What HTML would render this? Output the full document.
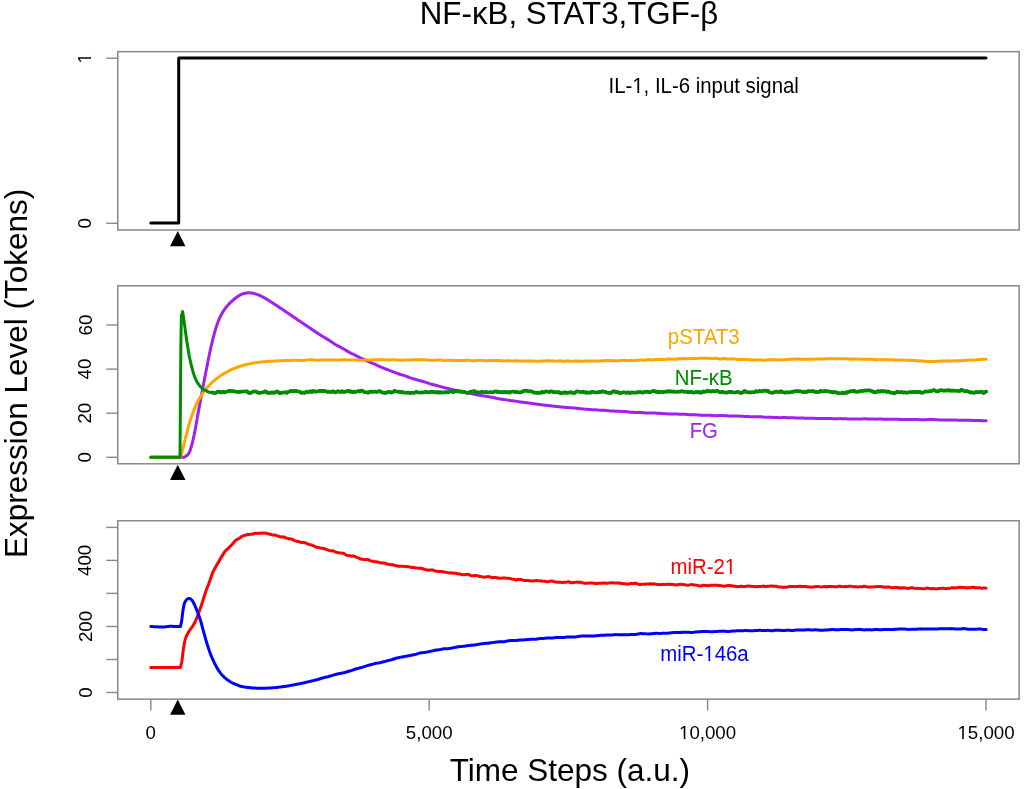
<!DOCTYPE html>
<html><head><meta charset="utf-8"><style>
html,body{margin:0;padding:0;background:#fff;}
svg{display:block;will-change:transform;}
text{font-family:"Liberation Sans",sans-serif;}
</style></head><body>
<svg width="1024" height="789" viewBox="0 0 1024 789">
<rect width="1024" height="789" fill="#fff"/>
<rect x="117.75" y="51.67" width="901.40" height="178.33" fill="none" stroke="#888888" stroke-width="1.5"/>
<rect x="117.75" y="285.75" width="901.40" height="178.02" fill="none" stroke="#888888" stroke-width="1.5"/>
<rect x="117.75" y="520.75" width="901.40" height="178.40" fill="none" stroke="#888888" stroke-width="1.5"/>
<line x1="106.3" y1="58.2" x2="117.75" y2="58.2" stroke="#888888" stroke-width="1.4"/>
<text x="91.5" y="58.2" transform="rotate(-90 91.5 58.2)" text-anchor="middle" font-size="18.7">1</text><rect x="87.07" y="55.80" width="3.93" height="3.70" fill="#fff" transform="rotate(-90 91.5 58.2)"/><rect x="92.65" y="55.80" width="3.79" height="3.70" fill="#fff" transform="rotate(-90 91.5 58.2)"/>
<line x1="106.3" y1="223.3" x2="117.75" y2="223.3" stroke="#888888" stroke-width="1.4"/>
<text x="91.5" y="223.3" transform="rotate(-90 91.5 223.3)" text-anchor="middle" font-size="18.7">0</text>
<line x1="106.3" y1="457.3" x2="117.75" y2="457.3" stroke="#888888" stroke-width="1.4"/>
<text x="91.5" y="457.3" transform="rotate(-90 91.5 457.3)" text-anchor="middle" font-size="18.7">0</text>
<line x1="106.3" y1="413.2" x2="117.75" y2="413.2" stroke="#888888" stroke-width="1.4"/>
<text x="91.5" y="413.2" transform="rotate(-90 91.5 413.2)" text-anchor="middle" font-size="18.7">20</text>
<line x1="106.3" y1="369.1" x2="117.75" y2="369.1" stroke="#888888" stroke-width="1.4"/>
<text x="91.5" y="369.1" transform="rotate(-90 91.5 369.1)" text-anchor="middle" font-size="18.7">40</text>
<line x1="106.3" y1="325.0" x2="117.75" y2="325.0" stroke="#888888" stroke-width="1.4"/>
<text x="91.5" y="325.0" transform="rotate(-90 91.5 325.0)" text-anchor="middle" font-size="18.7">60</text>
<line x1="106.3" y1="692.5" x2="117.75" y2="692.5" stroke="#888888" stroke-width="1.4"/>
<text x="91.5" y="692.5" transform="rotate(-90 91.5 692.5)" text-anchor="middle" font-size="18.7">0</text>
<line x1="106.3" y1="659.5" x2="117.75" y2="659.5" stroke="#888888" stroke-width="1.4"/>
<line x1="106.3" y1="626.5" x2="117.75" y2="626.5" stroke="#888888" stroke-width="1.4"/>
<text x="91.5" y="626.5" transform="rotate(-90 91.5 626.5)" text-anchor="middle" font-size="18.7">200</text>
<line x1="106.3" y1="593.4" x2="117.75" y2="593.4" stroke="#888888" stroke-width="1.4"/>
<line x1="106.3" y1="560.4" x2="117.75" y2="560.4" stroke="#888888" stroke-width="1.4"/>
<text x="91.5" y="560.4" transform="rotate(-90 91.5 560.4)" text-anchor="middle" font-size="18.7">400</text>
<line x1="106.3" y1="527.4" x2="117.75" y2="527.4" stroke="#888888" stroke-width="1.4"/>
<line x1="150.8" y1="699.15" x2="150.8" y2="710.6" stroke="#888888" stroke-width="1.4"/>
<text x="150.8" y="739.2" text-anchor="middle" font-size="18.7">0</text>
<line x1="429.2" y1="699.15" x2="429.2" y2="710.6" stroke="#888888" stroke-width="1.4"/>
<text x="429.2" y="739.2" text-anchor="middle" font-size="18.7">5,000</text>
<line x1="707.6" y1="699.15" x2="707.6" y2="710.6" stroke="#888888" stroke-width="1.4"/>
<text x="707.6" y="739.2" text-anchor="middle" font-size="18.7">10,000</text><rect x="679.78" y="736.80" width="3.93" height="3.70" fill="#fff"/><rect x="685.37" y="736.80" width="3.79" height="3.70" fill="#fff"/>
<line x1="986" y1="699.15" x2="986" y2="710.6" stroke="#888888" stroke-width="1.4"/>
<text x="986" y="739.2" text-anchor="middle" font-size="18.7">15,000</text><rect x="958.18" y="736.80" width="3.93" height="3.70" fill="#fff"/><rect x="963.77" y="736.80" width="3.79" height="3.70" fill="#fff"/>
<polygon points="177.75,231.0 185.45,246.2 170.05,246.2" fill="#000"/>
<polygon points="177.75,464.8 185.45,480.0 170.05,480.0" fill="#000"/>
<polygon points="177.75,699.5999999999999 185.45,714.8 170.05,714.8" fill="#000"/>
<polyline points="150.80,223.00 178.70,223.00 178.70,58.10 986.00,58.10" fill="none" stroke="#000" stroke-width="3" stroke-linejoin="round" stroke-linecap="round"/>
<polyline points="150.80,457.30 183.50,457.30 184.34,457.01 185.12,456.66 185.83,456.26 186.47,455.82 187.06,455.32 187.60,454.78 188.09,454.20 188.54,453.59 188.94,452.95 189.31,452.27 189.65,451.57 189.95,450.85 190.24,450.11 190.50,449.36 190.74,448.59 190.98,447.82 191.20,447.04 191.42,446.27 191.64,445.49 191.85,444.71 192.05,443.92 192.25,443.14 192.45,442.36 192.64,441.58 192.83,440.79 193.02,440.01 193.20,439.22 193.38,438.43 193.56,437.65 193.73,436.86 193.90,436.07 194.06,435.28 194.23,434.49 194.39,433.70 194.55,432.91 194.70,432.12 194.86,431.32 195.01,430.53 195.16,429.74 195.31,428.95 195.46,428.15 195.60,427.36 195.75,426.57 195.89,425.77 196.03,424.98 196.17,424.19 196.31,423.39 196.46,422.60 196.60,421.80 196.74,421.01 196.88,420.21 197.02,419.42 197.16,418.63 197.30,417.83 197.44,417.04 197.58,416.25 197.72,415.45 197.86,414.66 198.00,413.87 198.14,413.07 198.29,412.28 198.43,411.49 198.57,410.70 198.71,409.90 198.86,409.11 199.00,408.32 199.14,407.53 199.29,406.73 199.43,405.94 199.58,405.15 199.72,404.36 199.87,403.57 200.01,402.78 200.16,401.99 200.31,401.19 200.45,400.40 200.60,399.61 200.74,398.82 200.89,398.03 201.04,397.24 201.19,396.45 201.33,395.66 201.48,394.87 201.63,394.08 201.78,393.29 201.93,392.50 202.08,391.71 202.23,390.92 202.37,390.13 202.52,389.34 202.67,388.55 202.82,387.76 202.97,386.97 203.13,386.18 203.28,385.39 203.43,384.60 203.58,383.81 203.73,383.02 203.88,382.23 204.03,381.44 204.19,380.65 204.34,379.86 204.49,379.07 204.64,378.29 204.80,377.50 204.95,376.71 205.10,375.92 205.26,375.13 205.41,374.34 205.57,373.55 205.72,372.76 205.88,371.98 206.03,371.19 206.19,370.40 206.34,369.61 206.50,368.82 206.65,368.03 206.81,367.24 206.97,366.46 207.12,365.67 207.28,364.88 207.44,364.09 207.59,363.30 207.75,362.51 207.91,361.72 208.07,360.94 208.22,360.15 208.38,359.36 208.54,358.57 208.70,357.78 208.87,357.00 209.03,356.21 209.19,355.42 209.35,354.63 209.52,353.85 209.69,353.06 209.85,352.27 210.02,351.49 210.19,350.70 210.36,349.91 210.53,349.13 210.71,348.34 210.88,347.56 211.06,346.77 211.24,345.99 211.42,345.20 211.60,344.42 211.78,343.63 211.97,342.85 212.15,342.07 212.34,341.28 212.53,340.50 212.72,339.72 212.92,338.94 213.12,338.15 213.32,337.37 213.52,336.59 213.72,335.81 213.93,335.03 214.14,334.25 214.35,333.47 214.56,332.69 214.78,331.92 215.00,331.14 215.22,330.36 215.45,329.59 215.68,328.81 215.92,328.04 216.16,327.27 216.40,326.50 216.66,325.74 216.91,324.97 217.18,324.21 217.45,323.45 217.72,322.70 218.01,321.95 218.30,321.20 218.60,320.45 218.91,319.71 219.22,318.97 219.55,318.24 219.88,317.51 220.23,316.79 220.58,316.07 220.95,315.36 221.32,314.65 221.71,313.95 222.11,313.25 222.51,312.56 222.93,311.87 223.36,311.19 223.80,310.52 224.25,309.86 224.71,309.20 225.19,308.55 225.67,307.90 226.16,307.27 226.66,306.64 227.17,306.02 227.70,305.40 228.23,304.80 228.77,304.20 229.32,303.62 229.88,303.04 230.45,302.47 231.03,301.91 231.62,301.36 232.22,300.82 232.83,300.29 233.44,299.77 234.07,299.26 234.70,298.76 235.35,298.28 236.00,297.80 236.73,297.22 237.47,296.67 238.20,296.17 238.93,295.71 239.67,295.28 240.40,294.89 241.13,294.54 241.85,294.22 242.58,293.94 243.31,293.69 244.03,293.48 244.76,293.30 245.48,293.15 246.20,293.03 246.92,292.94 247.64,292.87 248.36,292.84 249.08,292.84 249.80,292.86 250.51,292.90 251.23,292.98 251.94,293.07 252.65,293.19 253.37,293.33 254.08,293.50 254.79,293.68 255.50,293.89 256.21,294.11 256.91,294.35 257.62,294.61 258.33,294.89 259.03,295.18 259.73,295.49 260.44,295.81 261.14,296.15 261.84,296.50 262.54,296.86 263.24,297.23 263.94,297.61 264.64,298.01 265.33,298.41 266.03,298.82 266.72,299.23 267.42,299.65 268.11,300.08 268.80,300.51 269.49,300.95 270.18,301.39 270.87,301.83 271.56,302.27 272.25,302.71 272.94,303.16 273.62,303.60 274.31,304.05 274.99,304.49 275.68,304.94 276.36,305.39 277.04,305.84 277.72,306.29 278.40,306.74 279.08,307.19 279.76,307.64 280.44,308.09 281.12,308.54 281.80,308.99 282.48,309.45 283.15,309.90 283.83,310.35 284.51,310.81 285.18,311.26 285.86,311.72 286.53,312.17 287.20,312.63 287.88,313.08 288.55,313.54 289.22,314.00 289.89,314.45 290.56,314.91 291.24,315.36 291.91,315.82 292.58,316.28 293.25,316.74 293.92,317.19 294.59,317.65 295.26,318.11 295.93,318.56 296.59,319.02 297.26,319.48 297.93,319.93 298.60,320.39 299.27,320.84 299.94,321.30 300.61,321.67 301.27,322.14 301.94,322.61 302.61,323.08 303.28,323.55 303.94,324.02 304.61,324.49 305.28,324.95 305.95,325.39 306.61,325.84 307.28,326.28 307.95,326.72 308.62,327.16 309.29,327.60 309.95,328.04 310.62,328.50 311.29,328.97 311.96,329.43 312.63,329.89 313.30,330.34 313.97,330.80 314.64,331.26 315.31,331.71 315.98,332.15 316.65,332.60 317.32,333.04 317.99,333.48 318.66,333.92 319.33,334.36 320.00,334.80 320.68,335.21 321.35,335.61 322.02,336.02 322.70,336.42 323.37,336.82 324.05,337.22 324.72,337.62 325.40,338.04 326.07,338.46 326.75,338.89 327.43,339.31 328.11,339.73 328.79,340.15 329.47,340.57 330.15,340.99 330.83,341.46 331.51,341.92 332.19,342.38 332.87,342.84 333.56,343.29 334.24,343.75 334.93,344.20 335.61,344.59 336.30,344.96 336.99,345.33 337.67,345.71 338.36,346.07 339.05,346.44 339.74,346.81 340.44,347.19 341.13,347.58 341.82,347.97 342.52,348.36 343.21,348.75 343.91,349.14 344.61,349.52 345.30,349.92 346.00,350.35 346.70,350.77 347.40,351.19 348.11,351.61 348.81,352.03 349.51,352.44 350.21,352.83 350.92,353.17 351.63,353.51 352.33,353.85 353.04,354.18 353.75,354.52 354.46,354.85 355.17,355.19 355.88,355.57 356.59,355.95 357.30,356.32 358.02,356.70 358.73,357.07 359.44,357.44 360.16,357.80 360.88,358.13 361.59,358.45 362.31,358.77 363.03,359.09 363.75,359.41 364.47,359.73 365.19,360.05 365.91,360.40 366.64,360.74 367.36,361.08 368.08,361.42 368.81,361.76 369.53,362.10 370.26,362.42 370.99,362.72 371.71,363.01 372.44,363.30 373.17,363.59 373.90,363.88 374.63,364.17 375.36,364.49 376.10,364.83 376.83,365.17 377.56,365.51 378.30,365.84 379.03,366.18 379.77,366.51 380.50,366.84 381.24,367.15 381.98,367.47 382.72,367.78 383.45,368.09 384.19,368.40 384.93,368.71 385.67,368.99 386.42,369.26 387.16,369.53 387.90,369.80 388.64,370.07 389.39,370.33 390.13,370.61 390.88,370.90 391.62,371.20 392.37,371.49 393.12,371.78 393.87,372.08 394.61,372.37 395.36,372.65 396.11,372.92 396.86,373.18 397.61,373.45 398.36,373.72 399.12,373.98 399.87,374.24 400.62,374.48 401.37,374.71 402.13,374.93 402.88,375.16 403.64,375.38 404.39,375.60 405.15,375.84 405.91,376.14 406.66,376.43 407.42,376.73 408.18,377.02 408.94,377.32 409.70,377.61 410.46,377.87 411.22,378.10 411.98,378.34 412.74,378.57 413.50,378.81 414.27,379.04 415.03,379.27 415.79,379.49 416.56,379.71 417.32,379.93 418.09,380.15 418.85,380.36 419.62,380.58 420.38,380.79 421.15,381.01 421.92,381.22 422.68,381.43 423.45,381.64 424.22,381.85 424.99,382.06 425.76,382.33 426.53,382.61 427.30,382.88 428.07,383.15 428.84,383.42 429.61,383.69 430.38,383.92 431.16,384.11 431.93,384.30 432.70,384.49 433.47,384.67 434.25,384.86 435.02,385.04 435.80,385.27 436.57,385.49 437.35,385.71 438.12,385.93 438.90,386.15 439.68,386.37 440.45,386.58 441.23,386.79 442.01,387.00 442.78,387.21 443.56,387.41 444.34,387.62 445.12,387.82 445.90,388.00 446.68,388.18 447.46,388.37 448.24,388.55 449.02,388.72 449.80,388.90 450.58,389.10 451.36,389.30 452.14,389.49 452.92,389.69 453.71,389.89 454.49,390.08 455.27,390.26 456.05,390.41 456.84,390.55 457.62,390.70 458.41,390.84 459.19,390.98 459.97,391.12 460.76,391.32 461.54,391.52 462.33,391.72 463.11,391.91 463.90,392.11 464.68,392.30 465.47,392.47 466.26,392.61 467.04,392.76 467.83,392.90 468.62,393.04 469.40,393.18 470.19,393.33 470.98,393.53 471.76,393.72 472.55,393.91 473.34,394.10 474.13,394.29 474.92,394.47 475.70,394.63 476.49,394.78 477.28,394.93 478.07,395.08 478.86,395.23 479.65,395.38 480.44,395.50 481.23,395.60 482.02,395.70 482.81,395.80 483.60,395.90 484.39,395.99 485.18,396.10 485.97,396.25 486.76,396.39 487.55,396.54 488.34,396.68 489.13,396.83 489.92,396.97 490.71,397.12 491.50,397.26 492.29,397.40 493.08,397.55 493.87,397.69 494.66,397.83 495.46,397.99 496.25,398.17 497.04,398.36 497.83,398.54 498.62,398.71 499.41,398.89 500.20,399.05 501.00,399.15 501.79,399.24 502.58,399.34 503.37,399.43 504.16,399.52 504.95,399.62 505.75,399.75 506.54,399.89 507.33,400.02 508.12,400.16 508.92,400.29 509.71,400.43 510.50,400.54 511.29,400.64 512.09,400.74 512.88,400.83 513.67,400.93 514.46,401.03 515.26,401.13 516.05,401.26 516.84,401.39 517.64,401.52 518.43,401.64 519.22,401.77 520.01,401.90 520.81,402.00 521.60,402.10 522.39,402.20 523.19,402.31 523.98,402.41 524.78,402.51 525.57,402.61 526.36,402.72 527.16,402.82 527.95,402.92 528.74,403.03 529.54,403.13 530.33,403.24 531.13,403.35 531.92,403.47 532.71,403.59 533.51,403.70 534.30,403.82 535.10,403.93 535.89,404.03 536.69,404.13 537.48,404.23 538.27,404.32 539.07,404.42 539.86,404.52 540.66,404.63 541.45,404.74 542.25,404.86 543.04,404.97 543.84,405.08 544.63,405.20 545.43,405.29 546.22,405.37 547.02,405.44 547.81,405.52 548.61,405.59 549.40,405.67 550.20,405.75 550.99,405.85 551.79,405.95 552.58,406.06 553.38,406.16 554.18,406.26 554.97,406.36 555.77,406.44 556.56,406.52 557.36,406.60 558.15,406.67 558.95,406.75 559.75,406.83 560.54,406.91 561.34,407.00 562.13,407.09 562.93,407.18 563.73,407.26 564.52,407.35 565.32,407.42 566.11,407.48 566.91,407.54 567.71,407.59 568.50,407.65 569.30,407.70 570.10,407.75 570.89,407.80 571.69,407.84 572.49,407.88 573.28,407.92 574.08,407.96 574.88,408.00 575.67,408.10 576.47,408.21 577.27,408.33 578.06,408.44 578.86,408.55 579.66,408.67 580.46,408.76 581.25,408.83 582.05,408.91 582.85,408.98 583.64,409.05 584.44,409.12 585.24,409.19 586.04,409.25 586.83,409.31 587.63,409.37 588.43,409.43 589.23,409.49 590.02,409.55 590.82,409.59 591.62,409.63 592.42,409.67 593.21,409.71 594.01,409.75 594.81,409.78 595.61,409.85 596.40,409.91 597.20,409.98 598.00,410.05 598.80,410.12 599.60,410.18 600.39,410.23 601.19,410.25 601.99,410.28 602.79,410.30 603.59,410.32 604.38,410.35 605.18,410.38 605.98,410.48 606.78,410.57 607.58,410.66 608.38,410.76 609.17,410.85 609.97,410.94 610.77,410.98 611.57,411.01 612.37,411.05 613.17,411.08 613.97,411.11 614.76,411.15 615.56,411.18 616.36,411.21 617.16,411.24 617.96,411.27 618.76,411.30 619.56,411.33 620.36,411.36 621.15,411.39 621.95,411.43 622.75,411.46 623.55,411.49 624.35,411.52 625.15,411.57 625.95,411.66 626.75,411.76 627.55,411.85 628.34,411.95 629.14,412.04 629.94,412.13 630.74,412.19 631.54,412.24 632.34,412.29 633.14,412.34 633.94,412.39 634.74,412.45 635.54,412.45 636.34,412.43 637.14,412.42 637.94,412.40 638.74,412.38 639.53,412.37 640.33,412.39 641.13,412.48 641.93,412.56 642.73,412.65 643.53,412.73 644.33,412.81 645.13,412.89 645.93,412.90 646.73,412.91 647.53,412.93 648.33,412.94 649.13,412.95 649.93,412.96 650.73,412.98 651.53,413.00 652.33,413.02 653.13,413.04 653.93,413.06 654.73,413.08 655.53,413.11 656.33,413.16 657.13,413.20 657.93,413.25 658.73,413.29 659.53,413.33 660.33,413.39 661.13,413.45 661.93,413.51 662.73,413.58 663.53,413.64 664.33,413.71 665.13,413.76 665.93,413.80 666.73,413.84 667.53,413.88 668.33,413.92 669.13,413.96 669.93,414.00 670.73,413.98 671.53,413.96 672.33,413.94 673.13,413.92 673.93,413.90 674.73,413.87 675.53,413.91 676.33,413.98 677.13,414.05 677.93,414.11 678.73,414.18 679.53,414.25 680.33,414.28 681.13,414.28 681.93,414.27 682.73,414.26 683.53,414.26 684.33,414.25 685.13,414.26 685.93,414.33 686.73,414.40 687.53,414.47 688.33,414.54 689.13,414.62 689.94,414.69 690.74,414.70 691.54,414.70 692.34,414.70 693.14,414.71 693.94,414.71 694.74,414.72 695.54,414.76 696.34,414.82 697.14,414.89 697.94,414.95 698.74,415.01 699.54,415.07 700.34,415.13 701.14,415.16 701.94,415.19 702.74,415.23 703.54,415.26 704.34,415.30 705.14,415.32 705.94,415.32 706.74,415.32 707.55,415.31 708.35,415.31 709.15,415.31 709.95,415.30 710.75,415.36 711.55,415.42 712.35,415.48 713.15,415.54 713.95,415.59 714.75,415.65 715.55,415.66 716.35,415.64 717.15,415.63 717.95,415.61 718.75,415.59 719.55,415.57 720.35,415.57 721.15,415.58 721.95,415.59 722.75,415.61 723.56,415.62 724.36,415.63 725.16,415.65 725.96,415.71 726.76,415.77 727.56,415.83 728.36,415.89 729.16,415.95 729.96,416.01 730.76,416.00 731.56,415.99 732.36,415.98 733.16,415.97 733.96,415.96 734.76,415.95 735.56,415.98 736.36,416.01 737.16,416.05 737.96,416.09 738.77,416.12 739.57,416.16 740.37,416.20 741.17,416.24 741.97,416.28 742.77,416.31 743.57,416.35 744.37,416.39 745.17,416.43 745.97,416.47 746.77,416.51 747.57,416.55 748.37,416.58 749.17,416.62 749.97,416.66 750.77,416.66 751.57,416.65 752.37,416.65 753.17,416.64 753.97,416.64 754.78,416.63 755.58,416.65 756.38,416.66 757.18,416.68 757.98,416.70 758.78,416.71 759.58,416.73 760.38,416.77 761.18,416.85 761.98,416.93 762.78,417.00 763.58,417.08 764.38,417.16 765.18,417.21 765.98,417.20 766.78,417.19 767.58,417.18 768.38,417.16 769.18,417.15 769.98,417.14 770.79,417.20 771.59,417.26 772.39,417.33 773.19,417.39 773.99,417.46 774.79,417.52 775.59,417.55 776.39,417.57 777.19,417.59 777.99,417.60 778.79,417.62 779.59,417.64 780.39,417.64 781.19,417.63 781.99,417.62 782.79,417.61 783.59,417.59 784.39,417.58 785.19,417.58 785.99,417.60 786.79,417.63 787.59,417.66 788.40,417.68 789.20,417.71 790.00,417.73 790.80,417.75 791.60,417.78 792.40,417.80 793.20,417.83 794.00,417.85 794.80,417.87 795.60,417.90 796.40,417.92 797.20,417.95 798.00,417.98 798.80,418.00 799.60,418.03 800.40,418.05 801.20,418.07 802.00,418.08 802.80,418.10 803.60,418.11 804.40,418.13 805.20,418.14 806.00,418.15 806.80,418.17 807.60,418.18 808.41,418.20 809.21,418.21 810.01,418.23 810.81,418.25 811.61,418.27 812.41,418.29 813.21,418.31 814.01,418.33 814.81,418.35 815.61,418.38 816.41,418.41 817.21,418.45 818.01,418.49 818.81,418.52 819.61,418.56 820.41,418.57 821.21,418.55 822.01,418.54 822.81,418.53 823.61,418.51 824.41,418.50 825.21,418.49 826.01,418.50 826.81,418.51 827.61,418.52 828.41,418.52 829.21,418.53 830.01,418.54 830.81,418.57 831.61,418.60 832.41,418.63 833.21,418.66 834.02,418.69 834.82,418.72 835.62,418.72 836.42,418.70 837.22,418.68 838.02,418.66 838.82,418.64 839.62,418.62 840.42,418.62 841.22,418.63 842.02,418.65 842.82,418.66 843.62,418.68 844.42,418.69 845.22,418.72 846.02,418.77 846.82,418.82 847.62,418.88 848.42,418.93 849.22,418.98 850.02,419.04 850.82,419.02 851.62,419.00 852.42,418.98 853.22,418.96 854.02,418.94 854.82,418.92 855.62,418.92 856.42,418.93 857.22,418.94 858.02,418.95 858.82,418.96 859.62,418.97 860.42,418.97 861.22,418.94 862.02,418.91 862.82,418.89 863.62,418.86 864.42,418.84 865.22,418.83 866.02,418.86 866.82,418.90 867.62,418.93 868.42,418.96 869.23,419.00 870.03,419.03 870.83,419.05 871.63,419.07 872.43,419.09 873.23,419.11 874.03,419.12 874.83,419.14 875.63,419.13 876.43,419.10 877.23,419.07 878.03,419.04 878.83,419.01 879.63,418.99 880.43,419.00 881.23,419.04 882.03,419.09 882.83,419.13 883.63,419.18 884.43,419.23 885.23,419.26 886.03,419.27 886.83,419.28 887.63,419.29 888.43,419.30 889.23,419.30 890.03,419.31 890.83,419.28 891.63,419.25 892.43,419.23 893.23,419.20 894.03,419.17 894.83,419.14 895.63,419.17 896.43,419.21 897.23,419.26 898.03,419.30 898.83,419.34 899.63,419.39 900.43,419.41 901.23,419.41 902.04,419.40 902.84,419.40 903.64,419.40 904.44,419.40 905.24,419.40 906.04,419.42 906.84,419.44 907.64,419.47 908.44,419.49 909.24,419.51 910.04,419.53 910.84,419.52 911.64,419.51 912.44,419.49 913.24,419.48 914.04,419.47 914.84,419.46 915.64,419.48 916.44,419.51 917.24,419.54 918.04,419.58 918.84,419.61 919.64,419.64 920.44,419.66 921.24,419.67 922.04,419.68 922.84,419.69 923.64,419.71 924.45,419.72 925.25,419.72 926.05,419.68 926.85,419.64 927.65,419.61 928.45,419.57 929.25,419.54 930.05,419.50 930.85,419.52 931.65,419.53 932.45,419.54 933.25,419.56 934.05,419.57 934.85,419.58 935.65,419.63 936.45,419.68 937.25,419.73 938.05,419.78 938.85,419.83 939.65,419.88 940.45,419.92 941.26,419.95 942.06,419.98 942.86,420.01 943.66,420.05 944.46,420.08 945.26,420.09 946.06,420.05 946.86,420.02 947.66,419.99 948.46,419.96 949.26,419.92 950.06,419.90 950.86,419.92 951.66,419.95 952.46,419.98 953.26,420.01 954.07,420.03 954.87,420.06 955.67,420.09 956.47,420.11 957.27,420.13 958.07,420.16 958.87,420.18 959.67,420.21 960.47,420.22 961.27,420.21 962.07,420.21 962.87,420.21 963.67,420.21 964.47,420.21 965.28,420.22 966.08,420.24 966.88,420.26 967.68,420.28 968.48,420.30 969.28,420.32 970.08,420.34 970.88,420.35 971.68,420.37 972.48,420.38 973.28,420.40 974.09,420.42 974.89,420.43 975.69,420.45 976.49,420.48 977.29,420.50 978.09,420.52 978.89,420.55 979.69,420.57 980.49,420.60 981.29,420.64 982.09,420.68 982.90,420.71 983.70,420.75 984.50,420.78 985.30,420.81 986.10,420.81" fill="none" stroke="#A020F0" stroke-width="3" stroke-linejoin="round" stroke-linecap="round"/>
<polyline points="150.80,457.30 180.50,457.30 180.71,456.57 180.93,455.83 181.13,455.09 181.34,454.34 181.55,453.60 181.75,452.85 181.95,452.10 182.16,451.34 182.36,450.58 182.55,449.82 182.75,449.06 182.95,448.29 183.14,447.52 183.34,446.75 183.53,445.98 183.73,445.21 183.92,444.43 184.12,443.65 184.31,442.87 184.50,442.09 184.70,441.31 184.89,440.53 185.08,439.74 185.28,438.95 185.47,438.17 185.67,437.38 185.87,436.59 186.06,435.80 186.26,435.01 186.46,434.22 186.66,433.43 186.87,432.64 187.07,431.85 187.28,431.06 187.48,430.27 187.69,429.48 187.90,428.69 188.12,427.89 188.33,427.11 188.55,426.32 188.77,425.53 189.00,424.74 189.22,423.95 189.45,423.17 189.68,422.38 189.92,421.60 190.15,420.82 190.40,420.04 190.64,419.26 190.89,418.48 191.14,417.71 191.40,416.94 191.66,416.16 191.92,415.40 192.19,414.63 192.46,413.86 192.74,413.10 193.02,412.34 193.30,411.59 193.59,410.83 193.89,410.08 194.19,409.33 194.50,408.59 194.81,407.84 195.12,407.11 195.44,406.37 195.77,405.64 196.10,404.91 196.44,404.19 196.79,403.47 197.14,402.75 197.49,402.04 197.86,401.33 198.22,400.62 198.60,399.92 198.98,399.23 199.37,398.54 199.77,397.85 200.17,397.17 200.58,396.49 201.00,395.82 201.42,395.16 201.85,394.50 202.29,393.84 202.74,393.19 203.20,392.54 203.66,391.91 204.13,391.27 204.61,390.64 205.10,390.02 205.59,389.41 206.09,388.80 206.60,388.19 207.12,387.60 207.65,387.00 208.18,386.42 208.72,385.84 209.27,385.26 209.82,384.70 210.38,384.14 210.95,383.58 211.52,383.03 212.10,382.49 212.69,381.96 213.28,381.43 213.88,380.90 214.49,380.39 215.10,379.88 215.71,379.37 216.34,378.88 216.97,378.39 217.60,377.90 218.24,377.43 218.89,376.96 219.54,376.50 220.20,376.04 220.86,375.59 221.52,375.15 222.19,374.71 222.87,374.29 223.55,373.86 224.24,373.45 224.93,373.04 225.62,372.64 226.32,372.25 227.02,371.87 227.73,371.49 228.44,371.12 229.15,370.75 229.87,370.40 230.59,370.05 231.32,369.71 232.05,369.37 232.78,369.05 233.52,368.73 234.26,368.42 235.00,368.12 235.74,367.82 236.49,367.53 237.24,367.25 237.99,366.98 238.75,366.72 239.51,366.46 240.27,366.21 241.03,365.97 241.80,365.74 242.56,365.51 243.33,365.30 244.10,365.09 244.88,364.88 245.65,364.69 246.43,364.50 247.20,364.32 247.98,364.14 248.77,363.97 249.55,363.81 250.34,363.65 251.12,363.50 251.91,363.36 252.70,363.22 253.49,363.09 254.28,362.96 255.07,362.84 255.87,362.72 256.66,362.61 257.46,362.50 258.26,362.39 259.06,362.30 259.86,362.20 260.66,362.11 261.46,362.02 262.26,361.94 263.06,361.86 263.86,361.79 264.67,361.71 265.47,361.65 266.28,361.58 267.08,361.52 267.89,361.46 268.69,361.40 269.50,361.34 270.30,361.29 271.11,361.24 271.92,361.19 272.72,361.14 273.53,361.10 274.34,361.05 275.14,361.01 275.95,360.97 276.75,360.93 277.56,360.89 278.37,360.85 279.17,360.81 279.98,360.78 280.78,360.74 281.58,360.71 282.39,360.68 283.19,360.64 284.00,360.61 284.80,360.58 285.60,360.55 286.41,360.52 287.21,360.50 288.01,360.47 288.82,360.44 289.62,360.42 290.42,360.40 291.23,360.37 292.03,360.35 292.83,360.33 293.63,360.31 294.43,360.29 295.24,360.27 296.04,360.25 296.84,360.23 297.64,360.22 298.44,360.20 299.24,360.18 300.04,360.49 300.84,360.47 301.64,360.46 302.44,360.44 303.25,360.43 304.05,360.41 304.85,360.27 305.65,360.14 306.45,360.00 307.25,359.87 308.05,359.74 308.85,359.74 309.65,359.73 310.45,359.73 311.25,359.73 312.05,359.73 312.84,359.83 313.64,359.93 314.44,360.03 315.24,360.13 316.04,360.22 316.84,360.20 317.64,360.19 318.44,360.17 319.24,360.15 320.04,360.14 320.84,360.12 321.64,360.11 322.44,360.10 323.23,360.09 324.03,360.08 324.83,360.03 325.63,359.97 326.43,359.92 327.23,359.87 328.03,359.82 328.83,359.86 329.63,359.91 330.43,359.95 331.22,359.99 332.02,360.03 332.82,360.03 333.62,360.03 334.42,360.03 335.22,360.03 336.02,360.03 336.82,360.03 337.62,360.03 338.42,360.02 339.22,360.02 340.02,360.02 340.82,359.96 341.62,359.90 342.41,359.84 343.21,359.78 344.01,359.72 344.81,359.76 345.61,359.80 346.41,359.84 347.21,359.88 348.01,359.91 348.81,359.91 349.61,359.90 350.41,359.90 351.21,359.89 352.01,359.89 352.81,359.94 353.61,359.98 354.41,360.03 355.21,360.07 356.01,360.12 356.82,360.16 357.62,360.20 358.42,360.23 359.22,360.27 360.02,360.31 360.82,360.30 361.62,360.30 362.42,360.29 363.22,360.28 364.02,360.28 364.82,360.22 365.62,360.16 366.42,360.11 367.22,360.05 368.02,359.99 368.82,359.98 369.63,359.97 370.43,359.95 371.23,359.94 372.03,359.92 372.83,359.90 373.63,359.87 374.43,359.85 375.23,359.83 376.03,359.80 376.84,359.77 377.64,359.74 378.44,359.70 379.24,359.67 380.04,359.64 380.84,359.64 381.64,359.64 382.44,359.64 383.25,359.64 384.05,359.64 384.85,359.70 385.65,359.76 386.45,359.82 387.25,359.89 388.05,359.94 388.86,359.92 389.66,359.90 390.46,359.88 391.26,359.86 392.06,359.85 392.86,359.85 393.66,359.86 394.47,359.87 395.27,359.88 396.07,359.90 396.87,359.97 397.67,360.04 398.47,360.12 399.28,360.19 400.08,360.25 400.88,360.20 401.68,360.15 402.48,360.10 403.28,360.05 404.09,360.01 404.89,360.01 405.69,360.02 406.49,360.02 407.29,360.03 408.09,360.03 408.90,359.99 409.70,359.94 410.50,359.90 411.30,359.86 412.10,359.81 412.90,359.79 413.71,359.76 414.51,359.73 415.31,359.70 416.11,359.68 416.91,359.73 417.71,359.77 418.52,359.82 419.32,359.86 420.12,359.90 420.92,359.87 421.72,359.85 422.53,359.83 423.33,359.80 424.13,359.79 424.93,359.85 425.73,359.90 426.53,359.96 427.34,360.01 428.14,360.07 428.94,360.14 429.74,360.21 430.54,360.29 431.34,360.36 432.14,360.41 432.95,360.37 433.75,360.33 434.55,360.28 435.35,360.24 436.15,360.20 436.95,360.13 437.76,360.07 438.56,360.00 439.36,359.94 440.16,359.91 440.96,360.01 441.76,360.11 442.56,360.22 443.37,360.32 444.17,360.40 444.97,360.40 445.77,360.39 446.57,360.38 447.37,360.37 448.17,360.36 448.97,360.36 449.78,360.36 450.58,360.35 451.38,360.35 452.18,360.36 452.98,360.39 453.78,360.42 454.58,360.45 455.38,360.48 456.19,360.50 456.99,360.48 457.79,360.47 458.59,360.46 459.39,360.44 460.19,360.43 460.99,360.44 461.79,360.46 462.59,360.47 463.39,360.48 464.19,360.47 465.00,360.42 465.80,360.36 466.60,360.31 467.40,360.26 468.20,360.24 469.00,360.33 469.80,360.43 470.60,360.52 471.40,360.62 472.20,360.69 473.00,360.70 473.80,360.70 474.60,360.71 475.40,360.71 476.21,360.69 477.01,360.59 477.81,360.48 478.61,360.38 479.41,360.27 480.21,360.22 481.01,360.31 481.81,360.40 482.61,360.49 483.41,360.58 484.21,360.65 485.01,360.65 485.81,360.66 486.61,360.66 487.41,360.66 488.21,360.66 489.01,360.63 489.81,360.60 490.61,360.57 491.41,360.55 492.22,360.53 493.02,360.55 493.82,360.57 494.62,360.58 495.42,360.60 496.22,360.62 497.02,360.62 497.82,360.62 498.62,360.62 499.42,360.63 500.22,360.65 501.02,360.72 501.82,360.78 502.62,360.85 503.42,360.92 504.22,360.96 505.02,360.91 505.82,360.85 506.62,360.80 507.42,360.75 508.22,360.73 509.02,360.78 509.82,360.84 510.62,360.89 511.42,360.94 512.22,360.97 513.02,360.91 513.82,360.85 514.63,360.79 515.43,360.73 516.23,360.71 517.03,360.79 517.83,360.87 518.63,360.95 519.43,361.03 520.23,361.09 521.03,361.10 521.83,361.11 522.63,361.12 523.43,361.13 524.23,361.12 525.03,361.06 525.83,361.01 526.63,360.95 527.43,360.90 528.23,360.87 529.03,360.89 529.83,360.91 530.63,360.93 531.43,360.95 532.23,360.98 533.03,361.03 533.83,361.09 534.63,361.14 535.44,361.20 536.24,361.23 537.04,361.21 537.84,361.18 538.64,361.16 539.44,361.14 540.24,361.11 541.04,361.08 541.84,361.06 542.64,361.03 543.44,361.00 544.24,360.97 545.04,360.93 545.84,360.90 546.64,360.87 547.44,360.83 548.24,360.81 549.04,360.83 549.85,360.85 550.65,360.87 551.45,360.88 552.25,360.91 553.05,360.97 553.85,361.02 554.65,361.08 555.45,361.13 556.25,361.15 557.05,361.07 557.85,361.00 558.65,360.93 559.45,360.85 560.26,360.83 561.06,360.94 561.86,361.04 562.66,361.15 563.46,361.25 564.26,361.29 565.06,361.20 565.86,361.11 566.66,361.02 567.46,360.93 568.27,360.90 569.07,360.99 569.87,361.08 570.67,361.17 571.47,361.26 572.27,361.29 573.07,361.20 573.87,361.12 574.67,361.03 575.48,360.94 576.28,360.92 577.08,361.00 577.88,361.09 578.68,361.18 579.48,361.27 580.28,361.31 581.08,361.27 581.89,361.23 582.69,361.19 583.49,361.15 584.29,361.12 585.09,361.08 585.89,361.05 586.69,361.02 587.49,360.98 588.30,360.96 589.10,360.96 589.90,360.95 590.70,360.95 591.50,360.94 592.30,360.94 593.10,360.96 593.91,360.97 594.71,360.98 595.51,360.99 596.31,360.99 597.11,360.98 597.91,360.96 598.71,360.94 599.51,360.93 600.32,360.90 601.12,360.85 601.92,360.80 602.72,360.75 603.52,360.70 604.32,360.67 605.12,360.64 605.93,360.62 606.73,360.59 607.53,360.57 608.33,360.57 609.13,360.60 609.93,360.63 610.73,360.66 611.54,360.69 612.34,360.73 613.14,360.78 613.94,360.82 614.74,360.87 615.54,360.92 616.34,360.92 617.14,360.86 617.95,360.80 618.75,360.75 619.55,360.69 620.35,360.62 621.15,360.53 621.95,360.44 622.75,360.34 623.55,360.25 624.36,360.24 625.16,360.33 625.96,360.42 626.76,360.51 627.56,360.59 628.36,360.63 629.16,360.60 629.96,360.57 630.77,360.54 631.57,360.51 632.37,360.49 633.17,360.50 633.97,360.51 634.77,360.52 635.57,360.52 636.37,360.47 637.17,360.35 637.98,360.23 638.78,360.11 639.58,359.99 640.38,359.96 641.18,360.01 641.98,360.07 642.78,360.13 643.58,360.18 644.38,360.16 645.18,360.04 645.98,359.92 646.79,359.80 647.59,359.68 648.39,359.65 649.19,359.71 649.99,359.77 650.79,359.83 651.59,359.89 652.39,359.88 653.19,359.80 653.99,359.73 654.79,359.65 655.59,359.57 656.39,359.51 657.19,359.48 657.99,359.45 658.79,359.42 659.60,359.38 660.40,359.40 661.20,359.46 662.00,359.52 662.80,359.59 663.60,359.65 664.40,359.62 665.20,359.48 666.00,359.34 666.80,359.21 667.60,359.07 668.40,359.02 669.20,359.05 670.00,359.08 670.80,359.11 671.60,359.14 672.40,359.16 673.20,359.18 674.00,359.20 674.80,359.21 675.60,359.23 676.40,359.19 677.20,359.07 678.00,358.96 678.80,358.85 679.60,358.74 680.40,358.67 681.20,358.64 682.00,358.61 682.80,358.58 683.60,358.55 684.40,358.57 685.20,358.64 686.00,358.71 686.80,358.78 687.60,358.86 688.40,358.85 689.20,358.77 690.00,358.69 690.80,358.60 691.60,358.52 692.40,358.49 693.20,358.52 694.00,358.55 694.80,358.57 695.60,358.60 696.40,358.56 697.20,358.46 698.00,358.35 698.80,358.25 699.60,358.15 700.40,358.11 701.20,358.16 702.00,358.20 702.80,358.24 703.60,358.29 704.40,358.30 705.20,358.27 706.00,358.25 706.80,358.23 707.60,358.20 708.40,358.23 709.20,358.31 710.00,358.39 710.80,358.47 711.60,358.56 712.40,358.57 713.20,358.50 714.00,358.43 714.80,358.37 715.60,358.31 716.40,358.35 717.20,358.49 718.00,358.64 718.80,358.78 719.60,358.93 720.40,358.95 721.20,358.85 722.00,358.75 722.80,358.65 723.60,358.54 724.40,358.56 725.20,358.69 726.00,358.82 726.80,358.95 727.60,359.08 728.40,359.11 729.21,359.04 730.01,358.98 730.81,358.91 731.61,358.85 732.41,358.85 733.21,358.92 734.01,358.98 734.81,359.05 735.61,359.12 736.41,359.21 737.21,359.32 738.01,359.43 738.81,359.54 739.61,359.65 740.41,359.68 741.21,359.62 742.01,359.56 742.81,359.50 743.62,359.43 744.42,359.42 745.22,359.45 746.02,359.49 746.82,359.52 747.62,359.55 748.42,359.61 749.22,359.71 750.02,359.81 750.82,359.90 751.62,359.99 752.42,360.03 753.22,360.00 754.03,359.98 754.83,359.95 755.63,359.93 756.43,359.90 757.23,359.86 758.03,359.82 758.83,359.79 759.63,359.75 760.43,359.80 761.23,359.94 762.03,360.08 762.83,360.21 763.64,360.35 764.44,360.34 765.24,360.22 766.04,360.10 766.84,359.98 767.64,359.85 768.44,359.78 769.24,359.76 770.04,359.73 770.84,359.70 771.64,359.68 772.44,359.68 773.25,359.71 774.05,359.74 774.85,359.76 775.65,359.79 776.45,359.81 777.25,359.83 778.05,359.85 778.85,359.87 779.65,359.88 780.45,359.89 781.25,359.88 782.05,359.88 782.86,359.87 783.66,359.86 784.46,359.80 785.26,359.68 786.06,359.57 786.86,359.46 787.66,359.34 788.46,359.30 789.26,359.30 790.06,359.31 790.86,359.31 791.66,359.32 792.46,359.28 793.27,359.21 794.07,359.14 794.87,359.07 795.67,359.00 796.47,358.99 797.27,359.02 798.07,359.06 798.87,359.09 799.67,359.12 800.47,359.15 801.27,359.17 802.07,359.19 802.87,359.21 803.67,359.23 804.47,359.23 805.27,359.20 806.07,359.18 806.87,359.15 807.67,359.13 808.47,359.12 809.27,359.13 810.07,359.14 810.87,359.14 811.68,359.15 812.48,359.13 813.28,359.10 814.08,359.07 814.88,359.03 815.68,359.00 816.48,358.99 817.28,359.00 818.08,359.01 818.88,359.01 819.68,359.02 820.48,359.01 821.28,358.98 822.08,358.96 822.88,358.93 823.68,358.91 824.47,358.88 825.27,358.84 826.07,358.81 826.87,358.78 827.67,358.74 828.47,358.71 829.27,358.68 830.07,358.65 830.87,358.62 831.67,358.59 832.47,358.61 833.27,358.68 834.07,358.74 834.87,358.81 835.67,358.88 836.47,358.88 837.27,358.84 838.07,358.80 838.87,358.76 839.67,358.72 840.47,358.70 841.27,358.68 842.07,358.66 842.87,358.64 843.67,358.62 844.47,358.65 845.27,358.71 846.07,358.77 846.87,358.83 847.67,358.89 848.46,358.96 849.26,359.03 850.06,359.11 850.86,359.18 851.66,359.26 852.46,359.24 853.26,359.15 854.06,359.06 854.86,358.97 855.66,358.88 856.46,358.89 857.26,358.97 858.06,359.05 858.86,359.13 859.66,359.22 860.46,359.24 861.26,359.24 862.06,359.23 862.86,359.22 863.66,359.21 864.46,359.23 865.26,359.26 866.06,359.30 866.86,359.33 867.66,359.37 868.46,359.36 869.26,359.33 870.05,359.30 870.85,359.27 871.65,359.23 872.45,359.30 873.25,359.43 874.05,359.56 874.85,359.70 875.65,359.83 876.45,359.85 877.25,359.77 878.05,359.69 878.85,359.62 879.65,359.54 880.45,359.55 881.25,359.62 882.05,359.69 882.85,359.76 883.65,359.83 884.45,359.86 885.25,359.85 886.05,359.85 886.85,359.85 887.65,359.85 888.45,359.83 889.25,359.80 890.05,359.76 890.85,359.73 891.65,359.70 892.45,359.74 893.25,359.85 894.05,359.95 894.85,360.05 895.65,360.15 896.45,360.18 897.25,360.15 898.05,360.12 898.85,360.09 899.65,360.06 900.45,360.05 901.25,360.07 902.05,360.09 902.85,360.11 903.65,360.12 904.46,360.15 905.26,360.17 906.06,360.20 906.86,360.23 907.66,360.25 908.46,360.29 909.26,360.34 910.06,360.39 910.86,360.43 911.66,360.48 912.46,360.51 913.26,360.53 914.06,360.55 914.86,360.57 915.66,360.59 916.46,360.65 917.26,360.75 918.06,360.85 918.86,360.95 919.66,361.05 920.46,361.09 921.26,361.10 922.06,361.10 922.86,361.10 923.66,361.10 924.46,361.15 925.26,361.23 926.07,361.31 926.87,361.39 927.67,361.46 928.47,361.50 929.27,361.50 930.07,361.50 930.87,361.50 931.67,361.49 932.47,361.50 933.27,361.51 934.07,361.51 934.87,361.52 935.67,361.53 936.47,361.46 937.27,361.35 938.07,361.24 938.87,361.12 939.67,361.00 940.47,360.97 941.27,360.99 942.07,361.00 942.87,361.02 943.67,361.03 944.47,361.01 945.27,360.97 946.07,360.92 946.87,360.88 947.67,360.83 948.47,360.83 949.27,360.85 950.07,360.88 950.87,360.90 951.67,360.93 952.47,360.93 953.28,360.90 954.08,360.88 954.88,360.86 955.68,360.84 956.48,360.83 957.28,360.82 958.08,360.82 958.88,360.81 959.68,360.81 960.48,360.78 961.28,360.74 962.08,360.69 962.88,360.65 963.68,360.60 964.48,360.53 965.28,360.43 966.08,360.33 966.88,360.24 967.68,360.14 968.48,360.09 969.28,360.08 970.08,360.07 970.88,360.06 971.69,360.05 972.49,360.03 973.29,360.01 974.09,359.99 974.89,359.97 975.69,359.95 976.49,359.88 977.29,359.77 978.09,359.66 978.89,359.55 979.69,359.45 980.49,359.39 981.29,359.36 982.10,359.33 982.90,359.30 983.70,359.27 984.50,359.27 985.30,359.29 986.10,359.31" fill="none" stroke="#FFA500" stroke-width="3" stroke-linejoin="round" stroke-linecap="round"/>
<polyline points="150.80,457.30 180.00,457.30 180.01,456.50 180.01,455.69 180.02,454.88 180.03,454.06 180.03,453.24 180.04,452.42 180.05,451.59 180.05,450.76 180.06,449.93 180.07,449.09 180.08,448.25 180.08,447.41 180.09,446.56 180.10,445.71 180.10,444.85 180.11,443.99 180.12,443.13 180.12,442.27 180.13,441.40 180.14,440.53 180.14,439.66 180.15,438.79 180.16,437.91 180.16,437.03 180.17,436.15 180.18,435.27 180.18,434.38 180.19,433.49 180.20,432.60 180.20,431.71 180.21,430.81 180.21,429.92 180.22,429.02 180.23,428.12 180.23,427.22 180.24,426.32 180.25,425.41 180.25,424.51 180.26,423.60 180.27,422.70 180.27,421.79 180.28,420.88 180.29,419.97 180.29,419.06 180.30,418.14 180.31,417.23 180.31,416.32 180.32,415.41 180.33,414.49 180.33,413.58 180.34,412.66 180.35,411.75 180.35,410.83 180.36,409.92 180.36,409.00 180.37,408.09 180.38,407.18 180.38,406.26 180.39,405.35 180.40,404.43 180.40,403.52 180.41,402.61 180.42,401.70 180.42,400.79 180.43,399.88 180.44,398.97 180.44,398.06 180.45,397.16 180.46,396.25 180.46,395.35 180.47,394.45 180.48,393.55 180.48,392.65 180.49,391.75 180.50,390.85 180.50,389.96 180.51,389.07 180.52,388.18 180.52,387.29 180.53,386.40 180.53,385.52 180.54,384.64 180.55,383.76 180.55,382.88 180.56,382.00 180.57,381.13 180.57,380.26 180.58,379.40 180.59,378.53 180.59,377.67 180.60,376.81 180.61,375.96 180.61,375.11 180.62,374.26 180.63,373.42 180.64,372.57 180.64,371.74 180.65,370.90 180.66,370.07 180.66,369.25 180.67,368.42 180.68,367.60 180.68,366.79 180.69,365.98 180.70,365.17 180.70,364.37 180.71,363.57 180.72,362.77 180.72,361.98 180.73,361.20 180.74,360.42 180.75,359.64 180.75,358.87 180.76,358.11 180.77,357.35 180.77,356.59 180.78,355.84 180.79,355.09 180.80,354.35 180.80,353.62 180.81,352.89 180.82,352.16 180.82,351.44 180.83,350.73 180.84,350.03 180.85,349.32 180.85,348.63 180.86,347.94 180.87,347.26 180.87,346.58 180.88,345.91 180.89,345.24 180.90,344.59 180.90,343.93 180.91,343.29 180.92,342.65 180.93,342.02 180.93,341.40 180.94,340.78 180.95,340.17 180.96,339.56 180.97,338.97 180.97,338.38 180.98,337.80 180.99,337.22 181.00,336.65 181.00,336.09 181.01,335.54 181.02,335.00 181.03,334.46 181.04,333.93 181.04,333.41 181.05,332.90 181.06,332.40 181.07,331.90 181.08,331.41 181.08,330.93 181.09,330.46 181.10,330.00 181.16,327.03 181.22,324.45 181.28,322.23 181.34,320.34 181.40,318.75 181.46,317.44 181.53,316.38 181.59,315.54 181.66,314.91 181.72,314.44 181.79,314.11 181.86,313.90 181.93,313.78 181.99,313.73 182.06,313.70 182.13,313.69 182.20,313.66 182.27,313.59 182.33,313.44 182.40,313.19 182.47,312.82 182.53,312.30 182.60,311.60 182.72,312.41 182.85,313.21 182.97,314.00 183.10,314.80 183.22,315.60 183.34,316.39 183.47,317.19 183.59,318.00 183.72,318.80 183.84,319.62 183.96,320.44 184.08,321.26 184.20,322.10 184.31,322.89 184.42,323.68 184.52,324.48 184.63,325.29 184.73,326.11 184.84,326.92 184.94,327.74 185.05,328.57 185.15,329.39 185.26,330.22 185.37,331.04 185.48,331.86 185.59,332.68 185.70,333.50 185.82,334.32 185.93,335.14 186.05,335.96 186.17,336.79 186.29,337.62 186.41,338.44 186.54,339.27 186.66,340.09 186.78,340.91 186.91,341.72 187.03,342.53 187.16,343.33 187.28,344.12 187.40,344.90 187.53,345.73 187.66,346.55 187.78,347.35 187.90,348.15 188.03,348.94 188.15,349.73 188.28,350.51 188.40,351.29 188.53,352.07 188.67,352.85 188.81,353.63 188.95,354.41 189.10,355.20 189.26,355.99 189.41,356.79 189.58,357.58 189.74,358.37 189.91,359.17 190.09,359.96 190.26,360.75 190.44,361.55 190.63,362.34 190.82,363.13 191.01,363.92 191.20,364.71 191.40,365.50 191.60,366.29 191.80,367.10 192.01,367.91 192.22,368.72 192.43,369.53 192.64,370.34 192.86,371.15 193.08,371.94 193.31,372.73 193.55,373.50 193.79,374.25 194.04,374.99 194.30,375.70 194.61,376.52 194.93,377.32 195.26,378.10 195.59,378.87 195.93,379.61 196.28,380.34 196.64,381.05 197.02,381.74 197.40,382.42 197.79,383.07 198.20,383.70 198.72,384.46 199.28,385.19 199.86,385.91 200.45,386.60 201.06,387.25 201.66,387.87 202.26,388.43 202.84,388.95 203.40,389.40 204.15,389.94 204.82,390.34 205.47,390.09 206.17,390.61 206.99,391.39 208.00,391.77 208.63,391.78 209.30,392.16 210.00,392.41 210.74,392.61 211.52,392.52 212.33,392.36 213.17,392.78 214.05,393.03 214.97,393.07 215.92,392.99 216.90,392.00 217.61,391.90 218.35,391.82 219.12,391.59 219.91,391.94 220.73,392.47 221.57,392.32 222.42,391.78 223.28,391.57 224.14,392.37 225.01,392.28 225.87,391.97 226.72,391.58 227.57,391.44 228.40,391.10 229.21,390.76 230.00,390.67 230.88,391.11 231.75,391.33 232.60,390.97 233.45,391.22 234.29,391.43 235.12,391.59 235.94,391.53 236.77,391.82 237.59,392.01 238.41,391.86 239.22,392.01 240.05,392.03 240.87,391.55 241.70,391.58 242.53,391.58 243.36,391.42 244.19,391.52 245.02,391.44 245.85,391.30 246.67,391.35 247.50,391.92 248.33,392.72 249.15,392.94 249.98,393.05 250.81,392.75 251.64,392.46 252.47,391.99 253.30,391.58 254.08,391.40 254.76,391.44 255.38,391.62 255.96,391.62 256.52,391.62 257.08,392.15 257.69,392.80 258.35,392.82 259.10,392.73 259.96,392.99 260.95,392.47 262.10,392.39 263.45,392.24 265.00,391.27 265.55,391.50 266.12,391.74 266.70,392.27 267.31,392.87 267.92,392.78 268.55,392.52 269.20,392.91 269.86,393.29 270.54,392.89 271.23,392.55 271.94,392.35 272.66,392.56 273.39,392.87 274.13,392.84 274.89,392.58 275.66,391.95 276.44,391.56 277.24,391.45 278.04,391.89 278.86,392.63 279.69,393.17 280.53,393.19 281.37,392.81 282.23,392.56 283.10,392.62 283.98,392.43 284.86,392.33 285.76,392.57 286.66,392.99 287.57,392.00 288.49,391.80 289.42,391.63 290.35,391.13 291.29,390.78 292.24,391.25 293.19,391.05 294.15,390.81 295.11,391.26 296.08,390.85 297.05,391.27 298.03,391.43 299.01,391.51 300.00,391.90 300.69,392.56 301.39,392.85 302.09,392.82 302.80,392.55 303.52,392.40 304.25,392.91 304.98,392.68 305.72,391.93 306.46,391.84 307.21,391.90 307.97,392.14 308.73,391.99 309.50,391.71 310.28,391.17 311.05,391.38 311.84,392.07 312.63,391.30 313.42,390.99 314.22,391.11 315.02,391.66 315.82,391.73 316.63,391.40 317.45,391.43 318.26,391.18 319.08,390.86 319.91,390.75 320.73,390.94 321.56,391.13 322.39,390.76 323.23,391.00 324.06,391.24 324.90,391.08 325.74,391.19 326.58,391.53 327.42,392.07 328.27,391.68 329.11,391.62 329.96,391.82 330.80,392.19 331.65,391.77 332.50,391.34 333.34,391.34 334.19,392.05 335.04,392.39 335.88,392.22 336.73,391.58 337.57,391.27 338.41,391.28 339.26,391.73 340.10,391.91 340.93,391.74 341.77,391.01 342.61,391.70 343.44,392.01 344.27,391.92 345.10,391.65 345.92,391.44 346.74,391.24 347.56,390.93 348.38,390.80 349.19,390.97 350.00,391.92 350.81,391.70 351.61,391.40 352.42,391.91 353.23,391.76 354.03,391.60 354.84,392.08 355.65,391.96 356.45,391.67 357.26,391.33 358.06,391.13 358.87,391.15 359.68,391.57 360.48,391.04 361.29,390.62 362.10,390.68 362.90,391.06 363.71,391.62 364.52,392.16 365.32,392.25 366.13,392.26 366.94,392.20 367.74,392.67 368.55,392.63 369.35,391.87 370.16,391.57 370.97,391.49 371.77,391.68 372.58,391.88 373.39,391.82 374.19,391.48 375.00,391.61 375.81,391.79 376.61,391.86 377.42,391.91 378.23,391.63 379.03,391.10 379.84,391.17 380.65,391.46 381.45,392.19 382.26,392.54 383.06,392.66 383.87,392.64 384.68,392.94 385.48,392.97 386.29,392.79 387.10,392.33 387.90,392.07 388.71,391.94 389.52,391.87 390.32,392.17 391.13,392.61 391.94,392.17 392.74,392.04 393.55,391.84 394.35,390.85 395.16,391.05 395.97,391.54 396.77,391.47 397.58,391.66 398.39,391.82 399.19,391.55 400.00,392.05 400.81,392.43 401.61,391.69 402.42,391.95 403.23,392.41 404.03,392.59 404.84,392.74 405.65,392.80 406.45,392.64 407.26,392.59 408.06,392.64 408.87,392.80 409.68,392.98 410.48,392.94 411.29,392.48 412.10,392.72 412.90,392.83 413.71,392.87 414.52,392.70 415.32,392.34 416.13,391.75 416.94,392.03 417.74,392.39 418.55,392.59 419.35,392.47 420.16,392.47 420.97,392.65 421.77,392.39 422.58,392.31 423.39,392.44 424.19,392.42 425.00,392.13 425.81,391.57 426.61,391.97 427.42,392.28 428.23,392.48 429.03,392.25 429.84,392.01 430.65,391.91 431.45,391.68 432.26,391.82 433.06,392.20 433.87,392.14 434.68,392.10 435.48,392.11 436.29,392.58 437.10,392.39 437.90,391.94 438.71,392.67 439.52,392.48 440.32,391.98 441.13,392.51 441.94,392.60 442.74,392.46 443.55,392.20 444.35,392.32 445.16,392.53 445.97,392.23 446.77,392.15 447.58,392.19 448.39,392.43 449.19,392.08 450.00,391.58 450.81,391.38 451.61,391.56 452.42,391.88 453.23,392.08 454.03,391.63 454.84,391.13 455.65,390.92 456.45,391.30 457.26,391.60 458.06,391.44 458.87,391.30 459.68,391.38 460.48,391.88 461.29,391.55 462.10,391.49 462.90,391.99 463.71,391.82 464.52,391.83 465.32,392.23 466.13,392.70 466.94,392.83 467.74,392.81 468.55,392.67 469.35,392.33 470.16,391.74 470.97,391.81 471.77,391.72 472.58,391.39 473.39,391.15 474.19,391.15 475.00,391.42 475.81,391.87 476.61,392.15 477.42,392.29 478.23,392.28 479.03,392.47 479.84,392.75 480.65,392.17 481.45,391.89 482.26,391.86 483.06,392.18 483.87,392.25 484.68,392.10 485.48,392.04 486.29,392.12 487.10,392.31 487.90,392.50 488.71,392.46 489.52,392.24 490.32,391.98 491.13,392.15 491.94,392.49 492.74,392.53 493.55,392.22 494.35,391.77 495.16,391.44 495.97,391.32 496.77,391.48 497.58,392.30 498.39,391.97 499.19,391.55 500.00,392.20 500.81,392.28 501.61,392.14 502.42,391.95 503.23,392.33 504.03,392.53 504.84,391.89 505.65,391.92 506.45,392.17 507.26,392.40 508.06,392.03 508.87,391.93 509.68,392.60 510.48,392.16 511.29,391.70 512.10,391.56 512.90,391.43 513.71,391.54 514.52,392.04 515.32,391.90 516.13,391.88 516.94,392.08 517.74,392.14 518.55,392.24 519.35,392.41 520.16,392.54 520.97,392.35 521.77,391.94 522.58,391.34 523.39,391.07 524.19,391.18 525.00,390.84 525.81,390.63 526.61,390.48 527.42,390.91 528.23,391.24 529.03,391.44 529.84,391.15 530.65,391.18 531.45,391.47 532.26,391.75 533.06,392.18 533.87,392.62 534.68,392.54 535.48,392.61 536.29,392.79 537.10,393.01 537.90,392.93 538.71,392.59 539.52,392.83 540.32,392.91 541.13,392.74 541.94,391.84 542.74,392.02 543.55,392.56 544.35,392.30 545.16,391.78 545.97,391.34 546.77,391.58 547.58,391.71 548.39,391.82 549.19,392.02 550.00,391.64 550.81,391.24 551.61,391.38 552.42,391.75 553.23,392.05 554.03,392.08 554.84,392.28 555.65,392.35 556.45,392.03 557.26,392.25 558.06,392.39 558.87,392.13 559.68,392.62 560.48,393.13 561.29,393.16 562.10,392.96 562.90,392.82 563.71,392.83 564.52,392.35 565.32,392.26 566.13,392.83 566.94,392.89 567.74,392.86 568.55,392.79 569.35,392.33 570.16,392.29 570.97,392.63 571.77,392.33 572.58,392.46 573.39,393.13 574.19,393.12 575.00,392.66 575.81,391.99 576.61,391.54 577.42,391.39 578.23,391.53 579.03,391.63 579.84,391.88 580.65,392.15 581.45,391.98 582.26,391.72 583.06,391.48 583.87,392.36 584.68,392.39 585.48,391.98 586.29,392.82 587.10,392.87 587.90,392.39 588.71,392.42 589.52,392.63 590.32,392.78 591.13,392.06 591.94,391.74 592.74,391.76 593.55,392.07 594.35,392.28 595.16,392.42 595.97,392.49 596.77,392.38 597.58,392.26 598.39,392.44 599.19,392.13 600.00,391.86 600.81,392.22 601.61,391.76 602.42,391.30 603.23,391.51 604.03,391.85 604.84,392.08 605.65,391.95 606.45,392.37 607.26,392.76 608.06,392.80 608.87,392.83 609.68,392.99 610.48,393.16 611.29,392.66 612.10,392.10 612.90,391.55 613.71,391.27 614.52,391.19 615.32,391.87 616.13,392.21 616.94,392.21 617.74,391.81 618.55,392.57 619.35,393.10 620.16,393.22 620.97,392.83 621.77,392.64 622.58,392.69 623.39,392.36 624.19,392.35 625.00,392.68 625.81,392.67 626.61,392.72 627.42,392.81 628.23,392.27 629.03,392.44 629.84,393.21 630.65,392.73 631.45,392.43 632.26,392.31 633.06,392.68 633.87,392.72 634.68,392.53 635.48,392.48 636.29,392.59 637.10,392.69 637.90,392.00 638.71,391.97 639.52,392.24 640.32,392.02 641.13,392.22 641.94,392.60 642.74,392.58 643.55,392.16 644.35,391.71 645.16,391.91 645.97,391.75 646.77,391.52 647.58,391.76 648.39,392.05 649.19,392.30 650.00,392.33 650.81,391.98 651.61,391.53 652.42,391.26 653.23,391.01 654.03,390.92 654.84,391.20 655.65,391.70 656.45,391.93 657.26,391.44 658.06,392.07 658.87,392.50 659.68,391.97 660.48,391.90 661.29,391.92 662.10,391.85 662.90,392.14 663.71,392.18 664.52,391.72 665.32,391.59 666.13,391.59 666.94,391.72 667.74,391.18 668.55,391.05 669.35,391.74 670.16,391.33 670.97,391.28 671.77,391.75 672.58,391.62 673.39,391.52 674.19,391.46 675.00,391.77 675.81,391.87 676.61,391.78 677.42,391.72 678.23,391.67 679.03,391.67 679.84,391.74 680.65,391.55 681.45,391.19 682.26,391.20 683.06,391.45 683.87,391.81 684.68,391.82 685.48,391.75 686.29,391.69 687.10,392.04 687.90,392.08 688.71,391.98 689.52,392.27 690.32,392.03 691.13,391.67 691.94,392.18 692.74,392.41 693.55,392.51 694.35,392.62 695.16,392.29 695.97,391.86 696.77,391.86 697.58,392.27 698.39,392.55 699.19,391.88 700.00,392.25 700.81,392.72 701.61,392.57 702.42,391.95 703.23,391.42 704.03,391.47 704.84,391.76 705.65,391.81 706.45,391.23 707.26,390.89 708.06,390.87 708.87,391.42 709.68,391.24 710.48,391.18 711.29,391.59 712.10,391.16 712.90,390.93 713.71,391.24 714.52,391.49 715.32,391.38 716.13,390.73 716.94,390.82 717.74,391.09 718.55,391.63 719.35,391.99 720.16,392.26 720.97,392.45 721.77,391.81 722.58,391.68 723.39,392.14 724.19,392.47 725.00,392.56 725.81,392.41 726.61,392.67 727.42,392.54 728.23,392.07 729.03,391.93 729.84,391.88 730.65,391.89 731.45,391.80 732.26,392.05 733.06,392.49 733.87,392.46 734.68,392.47 735.48,392.48 736.29,392.08 737.10,391.96 737.90,392.00 738.71,392.02 739.52,392.42 740.32,392.95 741.13,392.96 741.94,392.78 742.74,392.42 743.55,391.45 744.35,391.01 745.16,391.04 745.97,392.07 746.77,392.17 747.58,392.07 748.39,392.55 749.19,392.51 750.00,392.27 750.81,392.35 751.63,392.36 752.45,392.32 753.28,392.18 754.12,392.24 754.97,391.89 755.81,391.13 756.67,391.62 757.53,391.78 758.39,391.54 759.26,390.83 760.13,390.93 761.01,391.20 761.88,391.41 762.76,391.05 763.64,390.80 764.53,390.66 765.41,390.64 766.30,391.00 767.19,390.79 768.07,390.89 768.96,392.07 769.85,392.28 770.73,392.46 771.62,392.69 772.50,392.87 773.38,392.50 774.26,392.10 775.13,391.76 776.01,391.79 776.88,391.64 777.74,391.73 778.60,392.17 779.46,391.95 780.31,391.51 781.15,391.18 781.99,392.00 782.83,392.21 783.65,392.29 784.47,392.49 785.29,392.70 786.09,392.56 786.89,392.10 787.68,392.35 788.46,392.56 789.23,392.46 789.99,392.24 790.74,392.04 791.48,392.02 792.21,391.97 792.93,391.89 793.64,391.55 794.33,391.28 795.02,391.54 795.69,391.48 796.35,391.00 796.99,390.95 797.62,391.17 798.24,391.32 798.84,391.42 799.43,391.28 800.00,391.06 801.35,391.60 802.61,392.17 803.78,392.22 804.86,391.54 805.88,392.02 806.82,391.91 807.70,391.44 808.52,391.05 809.30,391.26 810.03,391.41 810.72,391.31 811.38,391.24 812.02,391.19 812.63,391.11 813.24,391.07 813.84,391.41 814.44,391.91 815.04,391.91 815.66,391.73 816.30,391.80 816.96,391.94 817.66,391.92 818.39,391.93 819.17,392.05 820.00,391.37 820.77,390.77 821.55,391.27 822.35,391.52 823.15,391.55 823.96,391.11 824.78,391.11 825.61,391.16 826.44,390.91 827.28,391.10 828.12,391.40 828.97,391.73 829.81,391.62 830.66,391.69 831.51,391.85 832.35,392.44 833.20,392.33 834.04,392.01 834.87,391.90 835.71,392.44 836.53,392.75 837.35,392.56 838.16,393.10 838.96,393.34 839.75,393.14 840.53,393.31 841.30,393.18 842.06,392.56 842.80,392.81 843.67,393.22 844.49,393.29 845.27,392.62 846.02,392.26 846.74,392.84 847.44,392.55 848.11,391.76 848.78,391.72 849.44,391.78 850.10,391.39 850.76,391.10 851.43,391.20 852.12,391.21 852.83,391.15 853.57,390.84 854.34,390.69 855.14,391.66 855.99,391.72 856.89,391.57 857.85,391.75 858.86,391.61 859.95,391.15 861.10,390.79 861.72,390.79 862.34,390.98 862.99,390.97 863.64,390.83 864.31,390.59 864.99,390.30 865.68,390.58 866.38,390.70 867.09,390.46 867.81,390.32 868.55,390.23 869.29,390.56 870.05,390.80 870.81,390.79 871.58,390.95 872.36,391.26 873.15,391.93 873.95,391.98 874.76,391.92 875.57,392.50 876.40,392.32 877.23,391.82 878.06,390.93 878.91,391.38 879.76,391.69 880.61,391.61 881.47,390.79 882.34,391.03 883.21,391.61 884.09,391.17 884.97,391.22 885.85,391.60 886.74,392.01 887.63,391.34 888.53,391.52 889.43,392.04 890.33,392.62 891.23,392.63 892.14,392.60 893.05,392.96 893.95,393.40 894.86,393.04 895.78,392.63 896.69,392.05 897.60,391.56 898.32,391.97 899.05,392.19 899.79,392.20 900.53,392.13 901.28,392.09 902.03,392.11 902.79,392.48 903.55,392.72 904.32,392.33 905.09,392.34 905.87,392.59 906.65,392.75 907.44,392.68 908.23,392.41 909.02,392.15 909.82,392.14 910.62,392.35 911.42,392.11 912.23,392.08 913.04,392.25 913.85,391.87 914.66,391.87 915.48,392.11 916.30,392.05 917.12,392.10 917.94,392.05 918.76,391.78 919.59,391.76 920.41,392.07 921.24,392.74 922.07,392.70 922.90,392.47 923.72,392.22 924.55,391.86 925.38,391.57 926.21,391.35 927.04,391.61 927.86,391.59 928.69,391.36 929.51,391.25 930.34,391.15 931.16,391.07 931.98,391.05 932.80,390.56 933.62,390.05 934.43,390.10 935.25,390.77 936.06,391.34 936.86,391.39 937.67,391.47 938.47,391.30 939.27,390.42 940.06,390.21 940.85,390.20 941.64,390.30 942.42,390.36 943.20,390.47 944.03,390.72 944.87,390.41 945.70,390.30 946.52,390.79 947.35,390.49 948.18,390.20 949.00,390.14 949.82,390.63 950.64,390.76 951.46,390.59 952.28,390.66 953.10,390.66 953.91,390.59 954.73,390.81 955.54,390.80 956.35,390.75 957.16,390.77 957.97,390.91 958.78,391.07 959.59,391.00 960.39,390.35 961.20,389.73 962.00,389.88 962.81,390.49 963.61,391.03 964.42,390.97 965.22,391.15 966.02,391.31 966.83,391.04 967.63,391.33 968.43,391.68 969.23,391.78 970.03,392.40 970.83,392.65 971.63,392.25 972.43,392.38 973.23,392.67 974.04,392.99 974.84,392.51 975.64,391.99 976.44,392.06 977.24,392.10 978.04,392.13 978.85,392.15 979.65,391.95 980.45,391.83 981.26,391.99 982.06,391.98 982.87,392.26 983.68,393.13 984.48,392.46 985.29,391.84 986.10,391.69" fill="none" stroke="#008B00" stroke-width="3" stroke-linejoin="round" stroke-linecap="round"/>
<polyline points="212.33,392.36 213.17,392.78 214.05,393.03 214.97,393.07 215.92,392.99 216.90,392.00 217.61,391.90 218.35,391.82 219.12,391.59 219.91,391.94 220.73,392.47 221.57,392.32 222.42,391.78 223.28,391.57 224.14,392.37 225.01,392.28 225.87,391.97 226.72,391.58 227.57,391.44 228.40,391.10 229.21,390.76 230.00,390.67 230.88,391.11 231.75,391.33 232.60,390.97 233.45,391.22 234.29,391.43 235.12,391.59 235.94,391.53 236.77,391.82 237.59,392.01 238.41,391.86 239.22,392.01 240.05,392.03 240.87,391.55 241.70,391.58 242.53,391.58 243.36,391.42 244.19,391.52 245.02,391.44 245.85,391.30 246.67,391.35 247.50,391.92 248.33,392.72 249.15,392.94 249.98,393.05 250.81,392.75 251.64,392.46 252.47,391.99 253.30,391.58 254.08,391.40 254.76,391.44 255.38,391.62 255.96,391.62 256.52,391.62 257.08,392.15 257.69,392.80 258.35,392.82 259.10,392.73 259.96,392.99 260.95,392.47 262.10,392.39 263.45,392.24 265.00,391.27 265.55,391.50 266.12,391.74 266.70,392.27 267.31,392.87 267.92,392.78 268.55,392.52 269.20,392.91 269.86,393.29 270.54,392.89 271.23,392.55 271.94,392.35 272.66,392.56 273.39,392.87 274.13,392.84 274.89,392.58 275.66,391.95 276.44,391.56 277.24,391.45 278.04,391.89 278.86,392.63 279.69,393.17 280.53,393.19 281.37,392.81 282.23,392.56 283.10,392.62 283.98,392.43 284.86,392.33 285.76,392.57 286.66,392.99 287.57,392.00 288.49,391.80 289.42,391.63 290.35,391.13 291.29,390.78 292.24,391.25 293.19,391.05 294.15,390.81 295.11,391.26 296.08,390.85 297.05,391.27 298.03,391.43 299.01,391.51 300.00,391.90 300.69,392.56 301.39,392.85 302.09,392.82 302.80,392.55 303.52,392.40 304.25,392.91 304.98,392.68 305.72,391.93 306.46,391.84 307.21,391.90 307.97,392.14 308.73,391.99 309.50,391.71 310.28,391.17 311.05,391.38 311.84,392.07 312.63,391.30 313.42,390.99 314.22,391.11 315.02,391.66 315.82,391.73 316.63,391.40 317.45,391.43 318.26,391.18 319.08,390.86 319.91,390.75 320.73,390.94 321.56,391.13 322.39,390.76 323.23,391.00 324.06,391.24 324.90,391.08 325.74,391.19 326.58,391.53 327.42,392.07 328.27,391.68 329.11,391.62 329.96,391.82 330.80,392.19 331.65,391.77 332.50,391.34 333.34,391.34 334.19,392.05 335.04,392.39 335.88,392.22 336.73,391.58 337.57,391.27 338.41,391.28 339.26,391.73 340.10,391.91 340.93,391.74 341.77,391.01 342.61,391.70 343.44,392.01 344.27,391.92 345.10,391.65 345.92,391.44 346.74,391.24 347.56,390.93 348.38,390.80 349.19,390.97 350.00,391.92 350.81,391.70 351.61,391.40 352.42,391.91 353.23,391.76 354.03,391.60 354.84,392.08 355.65,391.96 356.45,391.67 357.26,391.33 358.06,391.13 358.87,391.15 359.68,391.57 360.48,391.04 361.29,390.62 362.10,390.68 362.90,391.06 363.71,391.62 364.52,392.16 365.32,392.25 366.13,392.26 366.94,392.20 367.74,392.67 368.55,392.63 369.35,391.87 370.16,391.57 370.97,391.49 371.77,391.68 372.58,391.88 373.39,391.82 374.19,391.48 375.00,391.61 375.81,391.79 376.61,391.86 377.42,391.91 378.23,391.63 379.03,391.10 379.84,391.17 380.65,391.46 381.45,392.19 382.26,392.54 383.06,392.66 383.87,392.64 384.68,392.94 385.48,392.97 386.29,392.79 387.10,392.33 387.90,392.07 388.71,391.94 389.52,391.87 390.32,392.17 391.13,392.61 391.94,392.17 392.74,392.04 393.55,391.84 394.35,390.85 395.16,391.05 395.97,391.54 396.77,391.47 397.58,391.66 398.39,391.82 399.19,391.55 400.00,392.05 400.81,392.43 401.61,391.69 402.42,391.95 403.23,392.41 404.03,392.59 404.84,392.74 405.65,392.80 406.45,392.64 407.26,392.59 408.06,392.64 408.87,392.80 409.68,392.98 410.48,392.94 411.29,392.48 412.10,392.72 412.90,392.83 413.71,392.87 414.52,392.70 415.32,392.34 416.13,391.75 416.94,392.03 417.74,392.39 418.55,392.59 419.35,392.47 420.16,392.47 420.97,392.65 421.77,392.39 422.58,392.31 423.39,392.44 424.19,392.42 425.00,392.13 425.81,391.57 426.61,391.97 427.42,392.28 428.23,392.48 429.03,392.25 429.84,392.01 430.65,391.91 431.45,391.68 432.26,391.82 433.06,392.20 433.87,392.14 434.68,392.10 435.48,392.11 436.29,392.58 437.10,392.39 437.90,391.94 438.71,392.67 439.52,392.48 440.32,391.98 441.13,392.51 441.94,392.60 442.74,392.46 443.55,392.20 444.35,392.32 445.16,392.53 445.97,392.23 446.77,392.15 447.58,392.19 448.39,392.43 449.19,392.08 450.00,391.58 450.81,391.38 451.61,391.56 452.42,391.88 453.23,392.08 454.03,391.63 454.84,391.13 455.65,390.92 456.45,391.30 457.26,391.60 458.06,391.44 458.87,391.30 459.68,391.38 460.48,391.88 461.29,391.55 462.10,391.49 462.90,391.99 463.71,391.82 464.52,391.83 465.32,392.23 466.13,392.70 466.94,392.83 467.74,392.81 468.55,392.67 469.35,392.33 470.16,391.74 470.97,391.81 471.77,391.72 472.58,391.39 473.39,391.15 474.19,391.15 475.00,391.42 475.81,391.87 476.61,392.15 477.42,392.29 478.23,392.28 479.03,392.47 479.84,392.75 480.65,392.17 481.45,391.89 482.26,391.86 483.06,392.18 483.87,392.25 484.68,392.10 485.48,392.04 486.29,392.12 487.10,392.31 487.90,392.50 488.71,392.46 489.52,392.24 490.32,391.98 491.13,392.15 491.94,392.49 492.74,392.53 493.55,392.22 494.35,391.77 495.16,391.44 495.97,391.32 496.77,391.48 497.58,392.30 498.39,391.97 499.19,391.55 500.00,392.20 500.81,392.28 501.61,392.14 502.42,391.95 503.23,392.33 504.03,392.53 504.84,391.89 505.65,391.92 506.45,392.17 507.26,392.40 508.06,392.03 508.87,391.93 509.68,392.60 510.48,392.16 511.29,391.70 512.10,391.56 512.90,391.43 513.71,391.54 514.52,392.04 515.32,391.90 516.13,391.88 516.94,392.08 517.74,392.14 518.55,392.24 519.35,392.41 520.16,392.54 520.97,392.35 521.77,391.94 522.58,391.34 523.39,391.07 524.19,391.18 525.00,390.84 525.81,390.63 526.61,390.48 527.42,390.91 528.23,391.24 529.03,391.44 529.84,391.15 530.65,391.18 531.45,391.47 532.26,391.75 533.06,392.18 533.87,392.62 534.68,392.54 535.48,392.61 536.29,392.79 537.10,393.01 537.90,392.93 538.71,392.59 539.52,392.83 540.32,392.91 541.13,392.74 541.94,391.84 542.74,392.02 543.55,392.56 544.35,392.30 545.16,391.78 545.97,391.34 546.77,391.58 547.58,391.71 548.39,391.82 549.19,392.02 550.00,391.64 550.81,391.24 551.61,391.38 552.42,391.75 553.23,392.05 554.03,392.08 554.84,392.28 555.65,392.35 556.45,392.03 557.26,392.25 558.06,392.39 558.87,392.13 559.68,392.62 560.48,393.13 561.29,393.16 562.10,392.96 562.90,392.82 563.71,392.83 564.52,392.35 565.32,392.26 566.13,392.83 566.94,392.89 567.74,392.86 568.55,392.79 569.35,392.33 570.16,392.29 570.97,392.63 571.77,392.33 572.58,392.46 573.39,393.13 574.19,393.12 575.00,392.66 575.81,391.99 576.61,391.54 577.42,391.39 578.23,391.53 579.03,391.63 579.84,391.88 580.65,392.15 581.45,391.98 582.26,391.72 583.06,391.48 583.87,392.36 584.68,392.39 585.48,391.98 586.29,392.82 587.10,392.87 587.90,392.39 588.71,392.42 589.52,392.63 590.32,392.78 591.13,392.06 591.94,391.74 592.74,391.76 593.55,392.07 594.35,392.28 595.16,392.42 595.97,392.49 596.77,392.38 597.58,392.26 598.39,392.44 599.19,392.13 600.00,391.86 600.81,392.22 601.61,391.76 602.42,391.30 603.23,391.51 604.03,391.85 604.84,392.08 605.65,391.95 606.45,392.37 607.26,392.76 608.06,392.80 608.87,392.83 609.68,392.99 610.48,393.16 611.29,392.66 612.10,392.10 612.90,391.55 613.71,391.27 614.52,391.19 615.32,391.87 616.13,392.21 616.94,392.21 617.74,391.81 618.55,392.57 619.35,393.10 620.16,393.22 620.97,392.83 621.77,392.64 622.58,392.69 623.39,392.36 624.19,392.35 625.00,392.68 625.81,392.67 626.61,392.72 627.42,392.81 628.23,392.27 629.03,392.44 629.84,393.21 630.65,392.73 631.45,392.43 632.26,392.31 633.06,392.68 633.87,392.72 634.68,392.53 635.48,392.48 636.29,392.59 637.10,392.69 637.90,392.00 638.71,391.97 639.52,392.24 640.32,392.02 641.13,392.22 641.94,392.60 642.74,392.58 643.55,392.16 644.35,391.71 645.16,391.91 645.97,391.75 646.77,391.52 647.58,391.76 648.39,392.05 649.19,392.30 650.00,392.33 650.81,391.98 651.61,391.53 652.42,391.26 653.23,391.01 654.03,390.92 654.84,391.20 655.65,391.70 656.45,391.93 657.26,391.44 658.06,392.07 658.87,392.50 659.68,391.97 660.48,391.90 661.29,391.92 662.10,391.85 662.90,392.14 663.71,392.18 664.52,391.72 665.32,391.59 666.13,391.59 666.94,391.72 667.74,391.18 668.55,391.05 669.35,391.74 670.16,391.33 670.97,391.28 671.77,391.75 672.58,391.62 673.39,391.52 674.19,391.46 675.00,391.77 675.81,391.87 676.61,391.78 677.42,391.72 678.23,391.67 679.03,391.67 679.84,391.74 680.65,391.55 681.45,391.19 682.26,391.20 683.06,391.45 683.87,391.81 684.68,391.82 685.48,391.75 686.29,391.69 687.10,392.04 687.90,392.08 688.71,391.98 689.52,392.27 690.32,392.03 691.13,391.67 691.94,392.18 692.74,392.41 693.55,392.51 694.35,392.62 695.16,392.29 695.97,391.86 696.77,391.86 697.58,392.27 698.39,392.55 699.19,391.88 700.00,392.25 700.81,392.72 701.61,392.57 702.42,391.95 703.23,391.42 704.03,391.47 704.84,391.76 705.65,391.81 706.45,391.23 707.26,390.89 708.06,390.87 708.87,391.42 709.68,391.24 710.48,391.18 711.29,391.59 712.10,391.16 712.90,390.93 713.71,391.24 714.52,391.49 715.32,391.38 716.13,390.73 716.94,390.82 717.74,391.09 718.55,391.63 719.35,391.99 720.16,392.26 720.97,392.45 721.77,391.81 722.58,391.68 723.39,392.14 724.19,392.47 725.00,392.56 725.81,392.41 726.61,392.67 727.42,392.54 728.23,392.07 729.03,391.93 729.84,391.88 730.65,391.89 731.45,391.80 732.26,392.05 733.06,392.49 733.87,392.46 734.68,392.47 735.48,392.48 736.29,392.08 737.10,391.96 737.90,392.00 738.71,392.02 739.52,392.42 740.32,392.95 741.13,392.96 741.94,392.78 742.74,392.42 743.55,391.45 744.35,391.01 745.16,391.04 745.97,392.07 746.77,392.17 747.58,392.07 748.39,392.55 749.19,392.51 750.00,392.27 750.81,392.35 751.63,392.36 752.45,392.32 753.28,392.18 754.12,392.24 754.97,391.89 755.81,391.13 756.67,391.62 757.53,391.78 758.39,391.54 759.26,390.83 760.13,390.93 761.01,391.20 761.88,391.41 762.76,391.05 763.64,390.80 764.53,390.66 765.41,390.64 766.30,391.00 767.19,390.79 768.07,390.89 768.96,392.07 769.85,392.28 770.73,392.46 771.62,392.69 772.50,392.87 773.38,392.50 774.26,392.10 775.13,391.76 776.01,391.79 776.88,391.64 777.74,391.73 778.60,392.17 779.46,391.95 780.31,391.51 781.15,391.18 781.99,392.00 782.83,392.21 783.65,392.29 784.47,392.49 785.29,392.70 786.09,392.56 786.89,392.10 787.68,392.35 788.46,392.56 789.23,392.46 789.99,392.24 790.74,392.04 791.48,392.02 792.21,391.97 792.93,391.89 793.64,391.55 794.33,391.28 795.02,391.54 795.69,391.48 796.35,391.00 796.99,390.95 797.62,391.17 798.24,391.32 798.84,391.42 799.43,391.28 800.00,391.06 801.35,391.60 802.61,392.17 803.78,392.22 804.86,391.54 805.88,392.02 806.82,391.91 807.70,391.44 808.52,391.05 809.30,391.26 810.03,391.41 810.72,391.31 811.38,391.24 812.02,391.19 812.63,391.11 813.24,391.07 813.84,391.41 814.44,391.91 815.04,391.91 815.66,391.73 816.30,391.80 816.96,391.94 817.66,391.92 818.39,391.93 819.17,392.05 820.00,391.37 820.77,390.77 821.55,391.27 822.35,391.52 823.15,391.55 823.96,391.11 824.78,391.11 825.61,391.16 826.44,390.91 827.28,391.10 828.12,391.40 828.97,391.73 829.81,391.62 830.66,391.69 831.51,391.85 832.35,392.44 833.20,392.33 834.04,392.01 834.87,391.90 835.71,392.44 836.53,392.75 837.35,392.56 838.16,393.10 838.96,393.34 839.75,393.14 840.53,393.31 841.30,393.18 842.06,392.56 842.80,392.81 843.67,393.22 844.49,393.29 845.27,392.62 846.02,392.26 846.74,392.84 847.44,392.55 848.11,391.76 848.78,391.72 849.44,391.78 850.10,391.39 850.76,391.10 851.43,391.20 852.12,391.21 852.83,391.15 853.57,390.84 854.34,390.69 855.14,391.66 855.99,391.72 856.89,391.57 857.85,391.75 858.86,391.61 859.95,391.15 861.10,390.79 861.72,390.79 862.34,390.98 862.99,390.97 863.64,390.83 864.31,390.59 864.99,390.30 865.68,390.58 866.38,390.70 867.09,390.46 867.81,390.32 868.55,390.23 869.29,390.56 870.05,390.80 870.81,390.79 871.58,390.95 872.36,391.26 873.15,391.93 873.95,391.98 874.76,391.92 875.57,392.50 876.40,392.32 877.23,391.82 878.06,390.93 878.91,391.38 879.76,391.69 880.61,391.61 881.47,390.79 882.34,391.03 883.21,391.61 884.09,391.17 884.97,391.22 885.85,391.60 886.74,392.01 887.63,391.34 888.53,391.52 889.43,392.04 890.33,392.62 891.23,392.63 892.14,392.60 893.05,392.96 893.95,393.40 894.86,393.04 895.78,392.63 896.69,392.05 897.60,391.56 898.32,391.97 899.05,392.19 899.79,392.20 900.53,392.13 901.28,392.09 902.03,392.11 902.79,392.48 903.55,392.72 904.32,392.33 905.09,392.34 905.87,392.59 906.65,392.75 907.44,392.68 908.23,392.41 909.02,392.15 909.82,392.14 910.62,392.35 911.42,392.11 912.23,392.08 913.04,392.25 913.85,391.87 914.66,391.87 915.48,392.11 916.30,392.05 917.12,392.10 917.94,392.05 918.76,391.78 919.59,391.76 920.41,392.07 921.24,392.74 922.07,392.70 922.90,392.47 923.72,392.22 924.55,391.86 925.38,391.57 926.21,391.35 927.04,391.61 927.86,391.59 928.69,391.36 929.51,391.25 930.34,391.15 931.16,391.07 931.98,391.05 932.80,390.56 933.62,390.05 934.43,390.10 935.25,390.77 936.06,391.34 936.86,391.39 937.67,391.47 938.47,391.30 939.27,390.42 940.06,390.21 940.85,390.20 941.64,390.30 942.42,390.36 943.20,390.47 944.03,390.72 944.87,390.41 945.70,390.30 946.52,390.79 947.35,390.49 948.18,390.20 949.00,390.14 949.82,390.63 950.64,390.76 951.46,390.59 952.28,390.66 953.10,390.66 953.91,390.59 954.73,390.81 955.54,390.80 956.35,390.75 957.16,390.77 957.97,390.91 958.78,391.07 959.59,391.00 960.39,390.35 961.20,389.73 962.00,389.88 962.81,390.49 963.61,391.03 964.42,390.97 965.22,391.15 966.02,391.31 966.83,391.04 967.63,391.33 968.43,391.68 969.23,391.78 970.03,392.40 970.83,392.65 971.63,392.25 972.43,392.38 973.23,392.67 974.04,392.99 974.84,392.51 975.64,391.99 976.44,392.06 977.24,392.10 978.04,392.13 978.85,392.15 979.65,391.95 980.45,391.83 981.26,391.99 982.06,391.98 982.87,392.26 983.68,393.13 984.48,392.46 985.29,391.84 986.10,391.69" fill="none" stroke="#008B00" stroke-width="3.6" stroke-linejoin="round" stroke-linecap="round"/>
<polyline points="150.80,667.60 180.40,667.60 180.59,666.83 180.77,666.12 180.96,665.43 181.14,664.74 181.33,663.99 181.52,663.16 181.71,662.21 181.90,661.10 182.00,660.47 182.09,659.79 182.19,659.06 182.28,658.29 182.38,657.49 182.48,656.66 182.57,655.82 182.67,654.96 182.77,654.09 182.87,653.22 182.97,652.36 183.07,651.52 183.17,650.69 183.28,649.89 183.39,649.13 183.50,648.40 183.65,647.47 183.80,646.56 183.95,645.67 184.10,644.80 184.25,643.95 184.41,643.12 184.57,642.31 184.74,641.52 184.91,640.76 185.10,640.01 185.29,639.30 185.50,638.60 185.79,637.73 186.09,636.91 186.40,636.16 186.73,635.44 187.07,634.74 187.43,634.07 187.80,633.39 188.19,632.71 188.60,632.00 189.04,631.28 189.51,630.56 190.01,629.85 190.53,629.14 191.05,628.43 191.57,627.73 192.07,627.02 192.55,626.31 193.00,625.60 193.41,624.91 193.80,624.25 194.16,623.61 194.51,622.96 194.86,622.31 195.20,621.61 195.55,620.88 195.92,620.08 196.30,619.20 196.58,618.54 196.87,617.83 197.16,617.08 197.46,616.30 197.76,615.50 198.07,614.68 198.37,613.85 198.67,613.01 198.97,612.17 199.27,611.35 199.55,610.54 199.83,609.76 200.10,609.00 200.40,608.14 200.69,607.30 200.97,606.48 201.25,605.67 201.51,604.87 201.77,604.07 202.04,603.27 202.30,602.47 202.56,601.66 202.83,600.84 203.10,600.00 203.35,599.21 203.61,598.40 203.87,597.58 204.13,596.76 204.38,595.92 204.64,595.09 204.90,594.26 205.16,593.43 205.42,592.62 205.68,591.83 205.94,591.05 206.20,590.30 206.51,589.44 206.82,588.61 207.13,587.80 207.44,587.02 207.75,586.25 208.06,585.48 208.37,584.71 208.68,583.93 208.99,583.13 209.30,582.30 209.58,581.51 209.86,580.70 210.15,579.86 210.43,579.02 210.71,578.16 210.99,577.31 211.27,576.48 211.55,575.66 211.84,574.87 212.12,574.11 212.40,573.40 212.79,572.49 213.18,571.64 213.56,570.84 213.95,570.07 214.34,569.34 214.72,568.62 215.11,567.91 215.50,567.20 215.94,566.40 216.39,565.62 216.83,564.87 217.27,564.12 217.71,563.39 218.16,562.65 218.60,561.90 219.04,561.14 219.49,560.37 219.93,559.61 220.37,558.84 220.81,558.09 221.26,557.34 221.70,556.60 222.14,555.87 222.57,555.13 223.00,554.40 223.44,553.68 223.88,552.99 224.33,552.32 224.80,551.70 225.37,551.04 225.97,550.43 226.58,549.87 227.19,549.32 227.80,548.77 228.40,548.20 228.99,547.61 229.57,547.02 230.15,546.43 230.73,545.83 231.31,545.22 231.90,544.60 232.50,543.94 233.10,543.23 233.70,542.51 234.30,541.81 234.90,541.17 235.50,540.60 236.20,540.05 236.90,539.61 237.60,539.22 238.30,538.84 239.00,538.40 239.71,537.91 240.43,537.64 241.16,536.84 241.88,536.38 242.60,536.10 243.38,535.76 244.16,535.32 244.94,535.34 245.72,535.30 246.51,534.77 247.29,534.48 248.07,534.59 248.85,534.54 249.63,534.34 250.41,534.27 251.19,534.23 251.97,534.19 252.75,534.04 253.53,533.65 254.31,533.40 255.09,533.33 255.87,533.32 256.65,533.43 257.43,533.36 258.21,533.24 258.99,533.27 259.77,533.31 260.55,533.20 261.33,533.12 262.11,533.18 262.88,533.12 263.66,533.00 264.44,533.02 265.22,533.16 266.00,533.15 266.77,533.25 267.55,533.68 268.33,533.97 269.11,534.05 269.88,534.17 270.66,534.32 271.44,534.61 272.21,534.89 272.99,534.97 273.77,535.04 274.54,535.03 275.32,535.14 276.09,535.43 276.87,535.69 277.64,535.87 278.42,536.16 279.19,536.48 279.96,536.85 280.74,536.98 281.51,536.93 282.28,536.88 283.06,536.85 283.83,536.95 284.60,537.34 285.37,537.71 286.15,538.05 286.92,538.20 287.69,538.37 288.46,538.75 289.23,538.94 290.00,538.82 290.77,538.86 291.54,539.08 292.31,539.32 293.08,539.62 293.85,540.12 294.61,540.65 295.38,540.86 296.15,541.07 296.92,541.31 297.68,541.49 298.45,541.58 299.22,541.78 299.98,542.07 300.75,542.29 301.51,542.52 302.28,542.40 303.05,542.26 303.81,542.37 304.58,542.59 305.34,542.83 306.11,543.13 306.87,543.53 307.64,543.91 308.40,544.28 309.16,544.47 309.93,544.61 310.69,544.78 311.46,544.97 312.22,545.26 312.98,545.61 313.75,545.85 314.51,546.24 315.28,546.84 316.04,547.18 316.80,547.17 317.57,547.27 318.33,547.41 319.09,547.61 319.86,547.83 320.62,548.11 321.39,548.28 322.15,548.20 322.91,548.27 323.68,548.55 324.44,548.76 325.21,548.92 325.97,549.24 326.74,549.62 327.50,549.86 328.27,550.03 329.03,550.37 329.80,550.64 330.56,550.68 331.33,550.68 332.09,550.68 332.86,550.87 333.62,551.07 334.39,551.44 335.15,551.88 335.92,552.16 336.69,552.26 337.45,552.52 338.22,552.74 338.99,552.87 339.76,552.96 340.52,553.05 341.29,553.11 342.06,553.13 342.83,553.22 343.60,553.31 344.37,553.87 345.14,554.48 345.91,554.88 346.68,555.18 347.45,555.30 348.22,555.53 348.99,555.70 349.76,555.78 350.53,555.83 351.31,556.03 352.08,556.21 352.85,556.09 353.62,556.07 354.40,556.26 355.17,556.58 355.94,557.02 356.72,557.39 357.49,557.64 358.27,557.95 359.04,558.26 359.82,558.71 360.60,558.98 361.37,559.07 362.15,559.21 362.93,559.39 363.70,559.46 364.48,559.41 365.26,559.38 366.04,559.37 366.81,559.40 367.59,559.45 368.37,559.73 369.15,560.15 369.93,560.56 370.71,560.85 371.49,561.07 372.27,561.27 373.05,561.34 373.83,561.50 374.61,561.64 375.40,561.73 376.18,561.82 376.96,561.97 377.74,562.08 378.52,562.16 379.31,562.49 380.09,562.80 380.87,562.84 381.66,562.89 382.44,562.97 383.23,563.02 384.01,563.07 384.80,563.15 385.58,563.15 386.37,563.66 387.15,564.11 387.94,564.30 388.72,564.34 389.51,564.44 390.30,564.55 391.08,564.67 391.87,564.65 392.66,564.71 393.45,564.94 394.23,565.23 395.02,565.66 395.81,565.86 396.60,565.77 397.39,565.97 398.17,566.27 398.96,566.31 399.75,566.34 400.54,566.24 401.33,566.16 402.12,566.16 402.91,566.21 403.70,566.30 404.49,566.42 405.28,566.58 406.07,566.59 406.86,566.60 407.65,566.64 408.44,566.72 409.23,566.83 410.02,567.10 410.81,567.40 411.60,567.43 412.39,567.44 413.18,567.34 413.97,567.45 414.76,567.81 415.56,567.93 416.35,567.95 417.14,567.96 417.93,568.02 418.72,568.30 419.51,568.41 420.30,568.27 421.10,568.33 421.89,568.48 422.68,568.72 423.47,568.97 424.26,569.27 425.06,569.51 425.85,569.62 426.64,569.76 427.43,569.91 428.23,570.14 429.02,570.25 429.81,570.06 430.60,569.94 431.40,570.05 432.19,570.03 432.98,570.02 433.77,570.39 434.57,570.91 435.36,570.96 436.15,571.03 436.95,571.24 437.74,571.39 438.53,571.48 439.33,571.49 440.12,571.47 440.91,571.54 441.71,571.61 442.50,571.69 443.29,571.81 444.09,571.99 444.88,572.15 445.68,572.23 446.47,572.38 447.26,572.56 448.06,572.86 448.85,572.96 449.65,572.97 450.44,572.92 451.23,572.80 452.03,572.91 452.82,573.11 453.62,573.15 454.41,573.16 455.21,573.12 456.00,573.22 456.80,573.54 457.59,573.74 458.39,573.89 459.18,573.87 459.98,573.93 460.77,574.25 461.57,574.50 462.36,574.69 463.16,574.76 463.95,574.79 464.75,574.66 465.54,574.53 466.34,574.44 467.13,574.34 467.93,574.24 468.72,574.51 469.52,574.85 470.32,575.36 471.11,575.82 471.91,575.79 472.70,575.63 473.50,575.80 474.29,575.74 475.09,575.54 475.89,575.43 476.68,575.62 477.48,575.63 478.27,575.79 479.07,576.22 479.87,576.45 480.66,576.42 481.46,576.63 482.26,576.89 483.05,577.03 483.85,577.15 484.64,577.06 485.44,576.91 486.24,576.75 487.03,576.72 487.83,576.73 488.63,576.67 489.42,576.75 490.22,576.97 491.02,577.33 491.81,577.82 492.61,577.70 493.41,577.41 494.21,577.52 495.00,577.59 495.80,577.57 496.60,577.74 497.39,578.01 498.19,578.04 498.99,577.99 499.79,578.17 500.58,578.20 501.38,578.12 502.18,578.05 502.97,577.99 503.77,577.93 504.57,577.96 505.37,578.04 506.16,578.12 506.96,578.23 507.76,578.31 508.56,578.34 509.35,578.41 510.15,578.50 510.95,578.76 511.75,578.99 512.55,579.20 513.34,579.33 514.14,579.31 514.94,579.62 515.74,580.09 516.53,579.82 517.33,579.47 518.13,579.47 518.93,579.50 519.73,579.58 520.52,579.56 521.32,579.49 522.12,579.80 522.92,580.14 523.72,580.43 524.51,580.57 525.31,580.53 526.11,580.54 526.91,580.57 527.71,580.53 528.50,580.49 529.30,580.68 530.10,580.83 530.90,580.88 531.70,581.00 532.50,581.08 533.29,580.90 534.09,580.71 534.89,580.76 535.69,580.72 536.49,580.58 537.29,580.62 538.08,580.75 538.88,580.84 539.68,580.90 540.48,580.77 541.28,580.81 542.08,581.16 542.88,581.24 543.67,581.15 544.47,581.22 545.27,581.34 546.07,581.60 546.87,581.76 547.67,581.72 548.47,581.63 549.26,581.50 550.06,581.30 550.86,581.10 551.66,580.99 552.46,581.10 553.26,581.47 554.06,581.67 554.86,581.76 555.65,581.96 556.45,582.11 557.25,582.17 558.05,582.22 558.85,582.26 559.65,582.23 560.45,582.15 561.25,582.33 562.05,582.54 562.84,582.44 563.64,582.36 564.44,582.20 565.24,582.14 566.04,582.22 566.84,582.13 567.64,581.98 568.44,581.77 569.24,581.88 570.04,582.37 570.83,582.68 571.63,582.84 572.43,582.73 573.23,582.44 574.03,582.38 574.83,582.33 575.63,582.28 576.43,582.17 577.23,581.98 578.03,582.14 578.83,582.38 579.62,582.32 580.42,582.29 581.22,582.34 582.02,582.55 582.82,582.91 583.62,583.07 584.42,583.17 585.22,583.14 586.02,583.16 586.82,583.29 587.62,583.33 588.42,583.19 589.21,583.06 590.01,582.96 590.81,582.92 591.61,582.88 592.41,582.97 593.21,583.14 594.01,583.25 594.81,583.32 595.61,583.39 596.41,583.49 597.21,583.44 598.01,583.30 598.80,583.27 599.60,583.35 600.40,583.35 601.20,583.33 602.00,583.27 602.80,583.17 603.60,582.98 604.40,582.91 605.20,582.95 606.00,583.13 606.80,583.35 607.60,583.16 608.40,583.03 609.19,583.12 609.99,583.06 610.79,582.85 611.59,582.79 612.39,582.80 613.19,582.82 613.99,582.88 614.79,583.03 615.59,583.02 616.39,582.88 617.19,582.98 617.99,583.16 618.78,583.00 619.58,582.92 620.38,583.22 621.18,583.46 621.98,583.60 622.78,583.63 623.58,583.61 624.38,583.71 625.18,583.79 625.98,583.87 626.78,584.00 627.58,584.16 628.37,584.08 629.17,583.80 629.97,583.65 630.77,583.53 631.57,583.56 632.37,583.59 633.17,583.63 633.97,583.44 634.77,583.16 635.57,583.26 636.37,583.46 637.16,583.73 637.96,584.03 638.76,584.35 639.56,584.50 640.36,584.45 641.16,584.35 641.96,584.28 642.76,584.28 643.56,584.24 644.36,584.19 645.15,584.16 645.95,584.13 646.75,584.08 647.55,584.06 648.35,584.11 649.15,584.01 649.95,583.72 650.75,583.79 651.54,584.01 652.34,583.89 653.14,583.84 653.94,583.98 654.74,584.10 655.54,584.21 656.34,584.33 657.14,584.44 657.94,584.53 658.73,584.62 659.53,584.68 660.33,584.66 661.13,584.50 661.93,584.41 662.73,584.36 663.53,584.39 664.32,584.46 665.12,584.56 665.92,584.55 666.72,584.37 667.52,584.23 668.32,584.09 669.12,584.27 669.92,584.46 670.71,584.40 671.51,584.34 672.31,584.37 673.11,584.52 673.91,584.66 674.71,584.79 675.51,584.92 676.30,584.86 677.10,584.71 677.90,584.83 678.70,584.66 679.50,584.32 680.30,584.14 681.10,584.18 681.89,584.47 682.69,584.63 683.49,584.55 684.29,584.65 685.09,584.86 685.89,585.03 686.69,585.20 687.48,585.36 688.28,585.36 689.08,585.07 689.88,584.84 690.68,584.65 691.48,584.54 692.27,584.57 693.07,584.88 693.87,585.05 694.67,584.95 695.47,585.01 696.27,585.14 697.07,585.27 697.86,585.42 698.66,585.69 699.46,585.89 700.26,585.89 701.06,585.85 701.86,585.82 702.66,585.52 703.45,585.18 704.25,585.32 705.05,585.44 705.85,585.37 706.65,585.45 707.45,585.65 708.25,585.73 709.04,585.66 709.84,585.42 710.64,585.24 711.44,585.18 712.24,585.14 713.04,585.23 713.83,585.27 714.63,585.30 715.43,585.35 716.23,585.35 717.03,585.26 717.83,585.28 718.63,585.39 719.42,585.45 720.22,585.55 721.02,585.72 721.82,585.88 722.62,586.04 723.42,586.18 724.22,586.25 725.01,586.09 725.81,585.92 726.61,585.76 727.41,585.59 728.21,585.39 729.01,585.50 729.81,585.78 730.61,585.73 731.40,585.57 732.20,585.90 733.00,586.22 733.80,586.33 734.60,586.36 735.40,586.30 736.20,586.51 736.99,586.70 737.79,586.64 738.59,586.58 739.39,586.59 740.19,586.48 740.99,586.28 741.79,586.30 742.59,586.40 743.38,586.40 744.18,586.44 744.98,586.61 745.78,586.54 746.58,586.20 747.38,586.08 748.18,586.08 748.98,586.20 749.78,586.28 750.57,586.18 751.37,586.18 752.17,586.29 752.97,586.38 753.77,586.44 754.57,586.43 755.37,586.47 756.17,586.70 756.97,586.72 757.76,586.59 758.56,586.53 759.36,586.52 760.16,586.48 760.96,586.44 761.76,586.37 762.56,586.25 763.36,586.07 764.16,586.18 764.96,586.47 765.75,586.53 766.55,586.52 767.35,586.27 768.15,586.16 768.95,586.21 769.75,586.15 770.55,586.04 771.35,585.97 772.15,585.96 772.94,586.17 773.74,586.29 774.54,586.30 775.34,586.28 776.14,586.25 776.94,586.49 777.74,586.75 778.54,586.96 779.34,587.06 780.14,586.99 780.94,587.04 781.73,587.22 782.53,587.24 783.33,587.25 784.13,587.30 784.93,587.29 785.73,587.28 786.53,587.20 787.33,587.09 788.13,586.87 788.93,586.68 789.72,586.56 790.52,586.51 791.32,586.57 792.12,586.53 792.92,586.44 793.72,586.62 794.52,586.76 795.32,586.55 796.12,586.44 796.92,586.45 797.71,586.46 798.51,586.46 799.31,586.33 800.11,586.24 800.91,586.46 801.71,586.56 802.51,586.49 803.31,586.47 804.11,586.49 804.91,586.47 805.70,586.45 806.50,586.59 807.30,586.77 808.10,587.02 808.90,587.04 809.70,586.97 810.50,587.01 811.30,587.08 812.10,587.18 812.90,587.10 813.69,586.92 814.49,586.81 815.29,586.74 816.09,586.52 816.89,586.45 817.69,586.44 818.49,586.48 819.29,586.64 820.09,586.88 820.89,587.09 821.68,586.91 822.48,586.70 823.28,586.65 824.08,586.61 824.88,586.56 825.68,586.72 826.48,587.02 827.28,586.81 828.08,586.54 828.88,586.49 829.68,586.48 830.47,586.56 831.27,586.53 832.07,586.41 832.87,586.61 833.67,586.83 834.47,586.84 835.27,586.81 836.07,586.73 836.87,586.66 837.67,586.68 838.47,586.40 839.27,586.11 840.06,586.30 840.86,586.53 841.66,586.56 842.46,586.63 843.26,586.74 844.06,586.63 844.86,586.37 845.66,586.55 846.46,586.65 847.26,586.57 848.06,586.40 848.86,586.27 849.66,586.24 850.46,586.24 851.26,586.36 852.06,586.47 852.85,586.61 853.65,586.65 854.45,586.64 855.25,586.71 856.05,586.81 856.85,586.94 857.65,587.00 858.45,586.91 859.25,586.80 860.05,586.68 860.85,586.73 861.65,586.82 862.45,586.70 863.25,586.51 864.05,586.19 864.85,586.32 865.65,586.64 866.45,586.78 867.25,586.87 868.05,587.02 868.85,586.98 869.65,586.96 870.45,587.01 871.25,587.12 872.05,587.05 872.85,586.98 873.65,586.86 874.45,586.76 875.25,586.70 876.05,586.69 876.85,586.62 877.65,586.59 878.45,586.56 879.25,586.52 880.05,586.47 880.85,586.60 881.65,586.72 882.45,586.84 883.25,587.01 884.05,587.17 884.85,587.06 885.65,587.04 886.45,587.22 887.25,587.14 888.05,586.86 888.85,586.97 889.65,587.15 890.45,587.37 891.25,587.58 892.05,587.75 892.85,587.68 893.65,587.51 894.45,587.53 895.25,587.58 896.05,587.44 896.85,587.43 897.66,587.45 898.46,587.71 899.26,588.14 900.06,588.04 900.86,587.76 901.66,587.99 902.46,588.06 903.26,587.80 904.06,587.73 904.86,587.88 905.66,588.02 906.46,588.16 907.26,588.34 908.06,588.47 908.86,588.36 909.66,588.17 910.46,587.92 911.26,587.73 912.06,587.59 912.86,587.93 913.66,588.19 914.46,588.27 915.26,588.39 916.06,588.53 916.87,588.35 917.67,588.15 918.47,588.37 919.27,588.52 920.07,588.53 920.87,588.61 921.67,588.73 922.47,588.77 923.27,588.79 924.07,588.78 924.87,588.67 925.67,588.60 926.47,588.35 927.27,587.99 928.07,588.12 928.87,588.50 929.67,588.48 930.47,588.54 931.27,588.74 932.07,588.73 932.87,588.48 933.67,588.54 934.47,588.67 935.27,588.79 936.07,588.88 936.87,588.85 937.67,588.74 938.47,588.56 939.27,588.57 940.07,588.58 940.87,588.33 941.67,588.18 942.47,588.25 943.27,588.34 944.07,588.42 944.87,588.58 945.67,588.73 946.47,588.65 947.27,588.55 948.07,588.41 948.87,588.34 949.67,588.38 950.47,588.17 951.27,587.91 952.06,587.66 952.86,587.64 953.66,587.89 954.46,587.94 955.26,587.84 956.05,587.87 956.85,587.84 957.65,587.66 958.45,587.48 959.24,587.28 960.04,587.22 960.84,587.48 961.63,587.42 962.43,587.30 963.22,587.39 964.02,587.51 964.81,587.60 965.61,587.78 966.40,588.02 967.19,587.88 967.99,587.60 968.78,587.72 969.57,587.78 970.36,587.61 971.16,587.42 971.95,587.19 972.74,587.21 973.53,587.30 974.32,587.52 975.11,587.73 975.90,587.69 976.68,587.72 977.47,587.92 978.26,587.87 979.05,587.64 979.83,587.78 980.62,588.01 981.40,588.16 982.19,588.24 982.97,588.10 983.75,588.07 984.54,588.07 985.32,588.10 986.10,588.17" fill="none" stroke="#FF0000" stroke-width="3" stroke-linejoin="round" stroke-linecap="round"/>
<polyline points="150.80,626.50 151.61,626.55 152.42,626.59 153.24,626.64 154.07,626.69 154.88,626.74 155.69,626.79 156.48,626.83 157.25,626.87 158.00,626.90 158.92,626.94 159.80,626.97 160.66,627.01 161.49,627.03 162.32,627.04 163.15,627.03 164.00,627.00 164.87,626.93 165.74,626.83 166.62,626.71 167.50,626.58 168.36,626.46 169.20,626.36 170.00,626.30 170.89,626.28 171.73,626.30 172.54,626.35 173.34,626.41 174.16,626.46 175.00,626.50 175.88,626.52 176.77,626.54 177.67,626.56 178.59,626.57 179.50,626.58 180.40,626.60 180.59,625.76 180.77,624.98 180.96,624.20 181.14,623.40 181.33,622.54 181.51,621.59 181.70,620.50 181.81,619.79 181.91,619.01 182.01,618.19 182.11,617.33 182.21,616.43 182.31,615.52 182.42,614.61 182.52,613.70 182.63,612.80 182.75,611.93 182.87,611.09 183.00,610.30 183.16,609.39 183.31,608.48 183.47,607.58 183.63,606.70 183.79,605.85 183.97,605.03 184.17,604.25 184.39,603.51 184.63,602.83 184.90,602.20 185.42,601.24 186.03,600.38 186.68,599.63 187.36,599.03 188.04,598.61 188.70,598.40 189.46,598.42 190.22,598.72 190.98,599.26 191.74,600.03 192.50,601.00 192.85,601.52 193.19,602.10 193.54,602.73 193.88,603.42 194.23,604.15 194.57,604.91 194.92,605.70 195.26,606.51 195.61,607.34 195.95,608.17 196.30,609.00 196.59,609.71 196.89,610.44 197.19,611.18 197.49,611.94 197.79,612.71 198.09,613.49 198.39,614.29 198.68,615.09 198.98,615.90 199.26,616.72 199.55,617.54 199.83,618.37 200.10,619.20 200.35,619.98 200.59,620.77 200.83,621.56 201.06,622.37 201.29,623.18 201.51,624.00 201.74,624.83 201.96,625.65 202.18,626.48 202.40,627.31 202.63,628.14 202.85,628.96 203.07,629.78 203.30,630.60 203.53,631.41 203.75,632.23 203.97,633.04 204.20,633.85 204.42,634.67 204.64,635.48 204.86,636.29 205.09,637.11 205.31,637.92 205.54,638.74 205.77,639.55 206.01,640.37 206.25,641.18 206.50,642.00 206.74,642.77 206.98,643.55 207.22,644.34 207.47,645.13 207.72,645.93 207.98,646.72 208.23,647.52 208.49,648.31 208.75,649.09 209.01,649.86 209.27,650.62 209.53,651.37 209.79,652.10 210.05,652.81 210.30,653.50 210.64,654.40 210.97,655.26 211.30,656.09 211.63,656.89 211.96,657.68 212.29,658.45 212.63,659.21 212.98,659.97 213.34,660.73 213.71,661.51 214.10,662.30 214.47,663.05 214.86,663.81 215.27,664.59 215.68,665.37 216.10,666.16 216.53,666.94 216.96,667.71 217.39,668.46 217.82,669.19 218.25,669.89 218.68,670.57 219.10,671.20 219.64,671.98 220.17,672.71 220.69,673.39 221.21,674.02 221.74,674.63 222.29,675.23 222.85,675.81 223.46,676.40 224.10,677.00 224.71,677.55 225.33,678.10 225.98,678.64 226.64,679.18 227.33,679.71 228.03,680.23 228.76,680.74 229.51,681.24 230.29,681.73 231.10,682.20 231.80,682.58 232.53,682.95 233.28,683.30 234.06,683.65 234.85,683.99 235.65,684.32 236.46,684.65 237.28,684.97 238.09,685.30 238.91,685.63 239.71,685.96 240.50,686.30 241.30,686.45 242.09,686.60 242.89,686.73 243.68,686.87 244.48,686.99 245.27,687.11 246.07,687.22 246.86,687.33 247.66,687.43 248.45,687.52 249.25,687.61 250.04,687.69 250.84,687.77 251.63,687.84 252.42,687.90 253.22,687.96 254.01,688.02 254.81,688.06 255.60,688.10 256.39,688.14 257.19,688.17 257.98,688.20 258.77,688.22 259.57,688.23 260.36,688.24 261.15,688.25 261.94,688.25 262.74,688.24 263.53,688.23 264.32,688.22 265.11,688.20 265.90,688.18 266.70,688.15 267.49,688.12 268.28,688.08 269.07,688.04 269.86,687.99 270.65,687.94 271.44,687.89 272.23,687.83 273.02,687.77 273.81,687.70 274.60,687.63 275.39,687.55 276.18,687.48 276.97,687.39 277.76,687.31 278.55,687.22 279.34,687.13 280.13,687.03 280.91,686.93 281.70,686.83 282.49,686.72 283.28,686.61 284.07,686.50 284.85,686.39 285.64,686.27 286.43,686.15 287.21,686.02 288.00,685.90 288.79,685.77 289.57,685.63 290.36,685.50 291.15,685.36 291.93,685.22 292.72,685.08 293.50,684.93 294.29,684.79 295.07,684.64 295.86,684.48 296.64,684.33 297.42,684.17 298.21,684.01 298.99,683.85 299.77,683.69 300.56,683.53 301.34,683.36 302.12,683.19 302.91,683.02 303.69,682.85 304.47,682.67 305.25,682.50 306.04,682.32 306.82,682.14 307.60,681.96 308.38,681.77 309.16,681.59 309.94,681.41 310.72,681.22 311.50,681.03 312.28,680.84 313.06,680.65 313.84,680.46 314.62,680.27 315.40,680.07 316.18,679.88 316.96,679.68 317.74,679.49 318.52,679.29 319.29,679.09 320.07,678.70 320.85,678.49 321.63,678.27 322.41,678.05 323.18,677.83 323.96,677.60 324.74,677.44 325.51,677.27 326.29,677.11 327.07,676.94 327.84,676.77 328.62,676.54 329.40,676.30 330.17,676.06 330.95,675.82 331.73,675.58 332.50,675.35 333.28,675.12 334.05,674.90 334.83,674.67 335.60,674.45 336.38,674.25 337.15,674.08 337.93,673.91 338.70,673.74 339.48,673.58 340.25,673.41 341.03,673.27 341.80,673.12 342.58,672.98 343.35,672.83 344.13,672.67 344.90,672.44 345.67,672.20 346.45,671.97 347.22,671.74 348.00,671.50 348.77,671.28 349.54,671.06 350.32,670.83 351.09,670.61 351.87,670.39 352.64,670.11 353.41,669.82 354.19,669.53 354.96,669.23 355.74,668.94 356.51,668.73 357.28,668.55 358.06,668.38 358.83,668.20 359.61,668.03 360.38,667.82 361.15,667.56 361.93,667.31 362.70,667.06 363.48,666.81 364.25,666.57 365.03,666.34 365.80,666.11 366.57,665.88 367.35,665.65 368.12,665.42 368.90,665.20 369.67,664.98 370.45,664.76 371.22,664.54 372.00,664.32 372.77,664.12 373.55,663.92 374.32,663.73 375.10,663.54 375.87,663.34 376.65,663.22 377.42,663.11 378.20,663.00 378.98,662.89 379.75,662.78 380.53,662.60 381.30,662.38 382.08,662.17 382.86,661.95 383.63,661.74 384.41,661.53 385.19,661.33 385.96,661.12 386.74,660.92 387.52,660.72 388.30,660.53 389.07,660.33 389.85,660.14 390.63,659.94 391.41,659.75 392.19,659.54 392.97,659.27 393.74,659.00 394.52,658.73 395.30,658.46 396.08,658.20 396.86,658.03 397.64,657.87 398.42,657.70 399.20,657.54 399.98,657.37 400.76,657.24 401.54,657.10 402.32,656.97 403.10,656.84 403.89,656.71 404.67,656.55 405.45,656.39 406.23,656.23 407.01,656.08 407.79,655.92 408.58,655.77 409.36,655.62 410.14,655.47 410.93,655.32 411.71,655.17 412.49,655.02 413.27,654.86 414.06,654.70 414.84,654.55 415.63,654.39 416.41,654.18 417.19,653.91 417.98,653.64 418.76,653.38 419.55,653.12 420.33,652.93 421.12,652.85 421.90,652.77 422.69,652.69 423.47,652.61 424.26,652.51 425.04,652.37 425.83,652.23 426.62,652.10 427.40,651.96 428.19,651.82 428.97,651.65 429.76,651.48 430.55,651.32 431.34,651.15 432.12,650.99 432.91,650.80 433.70,650.62 434.48,650.44 435.27,650.26 436.06,650.08 436.85,649.99 437.64,649.89 438.42,649.80 439.21,649.71 440.00,649.62 440.79,649.44 441.58,649.25 442.37,649.07 443.16,648.89 443.95,648.71 444.74,648.69 445.53,648.68 446.31,648.67 447.10,648.67 447.89,648.66 448.68,648.55 449.47,648.41 450.27,648.28 451.06,648.16 451.85,648.03 452.64,647.87 453.43,647.71 454.22,647.55 455.01,647.39 455.80,647.23 456.59,647.08 457.38,646.93 458.18,646.79 458.97,646.64 459.76,646.49 460.55,646.43 461.34,646.41 462.14,646.38 462.93,646.36 463.72,646.34 464.51,646.23 465.31,646.08 466.10,645.92 466.89,645.77 467.68,645.62 468.48,645.53 469.27,645.47 470.06,645.41 470.86,645.35 471.65,645.29 472.45,645.21 473.24,645.11 474.03,645.00 474.83,644.90 475.62,644.80 476.42,644.68 477.21,644.54 478.00,644.39 478.80,644.25 479.59,644.11 480.39,643.99 481.18,643.88 481.98,643.78 482.77,643.68 483.57,643.57 484.36,643.49 485.16,643.42 485.95,643.36 486.75,643.30 487.55,643.24 488.34,643.16 489.14,643.05 489.93,642.94 490.73,642.83 491.53,642.73 492.32,642.61 493.12,642.49 493.91,642.37 494.71,642.26 495.51,642.14 496.30,642.04 497.10,641.98 497.90,641.92 498.69,641.87 499.49,641.81 500.29,641.77 501.09,641.76 501.88,641.76 502.68,641.75 503.48,641.75 504.27,641.68 505.07,641.50 505.87,641.32 506.67,641.14 507.47,640.96 508.26,640.82 509.06,640.75 509.86,640.68 510.66,640.61 511.46,640.54 512.25,640.50 513.05,640.51 513.85,640.52 514.65,640.54 515.45,640.55 516.25,640.53 517.04,640.41 517.84,640.30 518.64,640.19 519.44,640.07 520.24,639.99 521.04,639.96 521.84,639.93 522.64,639.90 523.44,639.88 524.23,639.84 525.03,639.77 525.83,639.70 526.63,639.63 527.43,639.56 528.23,639.49 529.03,639.41 529.83,639.34 530.63,639.26 531.43,639.18 532.23,639.14 533.03,639.18 533.83,639.21 534.63,639.25 535.43,639.28 536.23,639.26 537.03,639.09 537.83,638.93 538.63,638.76 539.43,638.60 540.23,638.47 541.03,638.45 541.83,638.43 542.63,638.41 543.43,638.38 544.23,638.35 545.03,638.27 545.83,638.19 546.63,638.11 547.43,638.03 548.23,637.97 549.03,637.99 549.83,638.00 550.64,638.01 551.44,638.02 552.24,638.00 553.04,637.90 553.84,637.81 554.64,637.71 555.44,637.61 556.24,637.54 557.04,637.50 557.84,637.47 558.64,637.43 559.45,637.40 560.25,637.38 561.05,637.39 561.85,637.40 562.65,637.41 563.45,637.42 564.25,637.40 565.05,637.30 565.85,637.19 566.66,637.09 567.46,636.99 568.26,636.92 569.06,636.91 569.86,636.90 570.66,636.89 571.46,636.89 572.26,636.88 573.07,636.89 573.87,636.90 574.67,636.91 575.47,636.92 576.27,636.87 577.07,636.72 577.87,636.57 578.67,636.42 579.48,636.27 580.28,636.15 581.08,636.11 581.88,636.07 582.68,636.02 583.48,635.98 584.28,635.95 585.09,635.93 585.89,635.92 586.69,635.91 587.49,635.89 588.29,635.90 589.09,635.94 589.89,635.98 590.69,636.02 591.50,636.06 592.30,636.06 593.10,636.00 593.90,635.95 594.70,635.89 595.50,635.83 596.30,635.77 597.11,635.68 597.91,635.59 598.71,635.50 599.51,635.42 600.31,635.35 601.11,635.33 601.91,635.31 602.71,635.29 603.52,635.27 604.32,635.23 605.12,635.18 605.92,635.12 606.72,635.07 607.52,635.01 608.32,634.98 609.12,634.99 609.92,635.00 610.72,635.00 611.53,635.01 612.33,634.97 613.13,634.88 613.93,634.79 614.73,634.70 615.53,634.61 616.33,634.58 617.13,634.64 617.93,634.70 618.73,634.76 619.53,634.82 620.33,634.85 621.14,634.85 621.94,634.84 622.74,634.84 623.54,634.83 624.34,634.82 625.14,634.80 625.94,634.78 626.74,634.75 627.54,634.73 628.34,634.69 629.14,634.63 629.94,634.57 630.74,634.50 631.54,634.44 632.34,634.41 633.14,634.41 633.95,634.41 634.75,634.41 635.55,634.41 636.35,634.34 637.15,634.18 637.95,634.02 638.75,633.86 639.55,633.69 640.35,633.61 641.15,633.61 641.95,633.62 642.75,633.63 643.55,633.64 644.35,633.67 645.15,633.74 645.95,633.80 646.75,633.87 647.55,633.94 648.35,633.95 649.15,633.89 649.95,633.84 650.75,633.78 651.55,633.73 652.35,633.66 653.15,633.58 653.95,633.50 654.75,633.42 655.55,633.34 656.35,633.32 657.15,633.37 657.95,633.41 658.75,633.46 659.55,633.51 660.35,633.50 661.15,633.43 661.95,633.36 662.75,633.29 663.55,633.21 664.35,633.17 665.15,633.17 665.95,633.18 666.75,633.18 667.55,633.18 668.35,633.13 669.15,633.03 669.95,632.93 670.75,632.83 671.55,632.74 672.35,632.66 673.15,632.62 673.95,632.58 674.75,632.54 675.55,632.50 676.35,632.48 677.15,632.49 677.95,632.50 678.75,632.52 679.55,632.53 680.35,632.50 681.15,632.43 681.95,632.37 682.75,632.30 683.55,632.23 684.35,632.20 685.15,632.21 685.95,632.22 686.75,632.23 687.55,632.24 688.35,632.27 689.15,632.33 689.95,632.38 690.75,632.44 691.55,632.50 692.35,632.48 693.15,632.37 693.95,632.26 694.75,632.15 695.55,632.04 696.35,631.95 697.15,631.88 697.95,631.81 698.75,631.74 699.55,631.68 700.35,631.63 701.15,631.61 701.95,631.60 702.75,631.58 703.55,631.56 704.35,631.55 705.15,631.55 705.95,631.54 706.75,631.54 707.55,631.54 708.34,631.56 709.14,631.63 709.94,631.69 710.74,631.76 711.54,631.82 712.34,631.82 713.14,631.75 713.94,631.67 714.74,631.59 715.54,631.51 716.34,631.45 717.14,631.42 717.94,631.39 718.74,631.36 719.54,631.33 720.34,631.29 721.14,631.25 721.94,631.20 722.74,631.15 723.54,631.11 724.34,631.13 725.14,631.23 725.94,631.34 726.74,631.44 727.54,631.55 728.34,631.57 729.14,631.47 729.94,631.38 730.74,631.28 731.54,631.18 732.34,631.11 733.14,631.06 733.94,631.01 734.74,630.96 735.54,630.92 736.34,630.87 737.14,630.84 737.94,630.80 738.74,630.76 739.54,630.72 740.34,630.69 741.14,630.68 741.94,630.66 742.74,630.64 743.54,630.63 744.34,630.62 745.14,630.62 745.94,630.62 746.74,630.62 747.54,630.62 748.34,630.64 749.14,630.70 749.94,630.75 750.74,630.81 751.54,630.87 752.34,630.86 753.14,630.77 753.94,630.68 754.74,630.60 755.54,630.51 756.34,630.44 757.14,630.42 757.94,630.39 758.74,630.36 759.54,630.33 760.34,630.33 761.14,630.38 761.94,630.43 762.74,630.48 763.54,630.53 764.34,630.54 765.14,630.49 765.94,630.45 766.74,630.40 767.54,630.35 768.34,630.37 769.14,630.46 769.94,630.55 770.74,630.65 771.54,630.74 772.34,630.73 773.14,630.60 773.94,630.47 774.74,630.33 775.54,630.20 776.34,630.14 777.14,630.19 777.94,630.23 778.74,630.28 779.54,630.33 780.34,630.36 781.14,630.39 781.94,630.41 782.74,630.44 783.54,630.46 784.34,630.45 785.14,630.39 785.95,630.33 786.75,630.27 787.55,630.21 788.35,630.20 789.15,630.27 789.95,630.35 790.75,630.42 791.55,630.49 792.35,630.50 793.15,630.42 793.95,630.34 794.75,630.26 795.55,630.18 796.35,630.12 797.15,630.07 797.95,630.03 798.75,629.99 799.56,629.95 800.36,629.94 801.16,629.95 801.96,629.97 802.76,629.99 803.56,630.00 804.36,629.98 805.16,629.92 805.96,629.87 806.76,629.81 807.56,629.75 808.36,629.74 809.17,629.78 809.97,629.83 810.77,629.88 811.57,629.93 812.37,629.94 813.17,629.91 813.97,629.88 814.77,629.85 815.57,629.82 816.37,629.84 817.17,629.92 817.97,630.01 818.78,630.09 819.58,630.17 820.38,630.21 821.18,630.20 821.98,630.18 822.78,630.17 823.58,630.16 824.38,630.12 825.18,630.07 825.98,630.02 826.79,629.97 827.59,629.92 828.39,629.85 829.19,629.78 829.99,629.71 830.79,629.64 831.59,629.57 832.39,629.55 833.19,629.57 833.99,629.60 834.80,629.63 835.60,629.65 836.40,629.66 837.20,629.65 838.00,629.65 838.80,629.64 839.60,629.63 840.40,629.62 841.20,629.61 842.00,629.60 842.81,629.59 843.61,629.58 844.41,629.58 845.21,629.57 846.01,629.57 846.81,629.57 847.61,629.57 848.41,629.61 849.21,629.69 850.02,629.78 850.82,629.86 851.62,629.95 852.42,629.93 853.22,629.82 854.02,629.71 854.82,629.61 855.62,629.50 856.42,629.44 857.22,629.42 858.03,629.40 858.83,629.38 859.63,629.36 860.43,629.42 861.23,629.53 862.03,629.65 862.83,629.77 863.63,629.88 864.43,629.91 865.23,629.85 866.04,629.79 866.84,629.73 867.64,629.68 868.44,629.68 869.24,629.73 870.04,629.78 870.84,629.84 871.64,629.89 872.44,629.86 873.24,629.77 874.04,629.68 874.84,629.59 875.65,629.50 876.45,629.50 877.25,629.56 878.05,629.62 878.85,629.69 879.65,629.75 880.45,629.75 881.25,629.71 882.05,629.66 882.85,629.62 883.65,629.58 884.45,629.57 885.26,629.58 886.06,629.59 886.86,629.60 887.66,629.61 888.46,629.60 889.26,629.59 890.06,629.57 890.86,629.55 891.66,629.54 892.46,629.50 893.26,629.46 894.06,629.41 894.86,629.37 895.66,629.32 896.46,629.26 897.26,629.20 898.07,629.13 898.87,629.06 899.67,629.00 900.47,628.97 901.27,628.98 902.07,628.98 902.87,628.99 903.67,628.99 904.47,629.04 905.27,629.12 906.07,629.20 906.87,629.28 907.67,629.36 908.47,629.39 909.27,629.39 910.07,629.38 910.87,629.37 911.67,629.36 912.47,629.35 913.27,629.34 914.07,629.34 914.87,629.33 915.67,629.32 916.47,629.26 917.27,629.17 918.07,629.08 918.88,628.98 919.68,628.89 920.48,628.87 921.28,628.91 922.08,628.94 922.88,628.97 923.68,629.01 924.48,629.03 925.28,629.04 926.08,629.05 926.88,629.06 927.68,629.07 928.48,629.06 929.28,629.03 930.08,629.00 930.88,628.97 931.68,628.94 932.48,628.93 933.28,628.95 934.08,628.97 934.88,628.99 935.68,629.00 936.48,628.98 937.28,628.94 938.08,628.89 938.88,628.85 939.68,628.80 940.48,628.79 941.28,628.80 942.08,628.82 942.88,628.83 943.68,628.85 944.48,628.85 945.28,628.86 946.08,628.86 946.88,628.86 947.68,628.87 948.48,628.83 949.28,628.77 950.08,628.72 950.88,628.66 951.68,628.60 952.48,628.64 953.28,628.73 954.08,628.82 954.88,628.92 955.68,629.02 956.48,629.06 957.28,629.07 958.09,629.08 958.89,629.09 959.69,629.10 960.49,629.04 961.29,628.92 962.09,628.81 962.89,628.69 963.69,628.58 964.49,628.62 965.29,628.75 966.09,628.89 966.89,629.03 967.69,629.17 968.49,629.23 969.29,629.24 970.09,629.26 970.89,629.27 971.69,629.29 972.49,629.28 973.29,629.26 974.09,629.24 974.89,629.21 975.69,629.19 976.49,629.15 977.29,629.08 978.09,629.02 978.89,628.95 979.70,628.89 980.50,628.95 981.30,629.10 982.10,629.25 982.90,629.39 983.70,629.54 984.50,629.55 985.30,629.47 986.10,629.40" fill="none" stroke="#0000FF" stroke-width="3" stroke-linejoin="round" stroke-linecap="round"/>
<text x="703.7" y="0" transform="translate(0 93.0) scale(1 1.04)" text-anchor="middle" font-size="20.4">IL-1, IL-6 input signal</text><rect x="633.18" y="-2.52" width="4.24" height="3.82" fill="#fff" transform="translate(0 93.0) scale(1 1.04)"/><rect x="639.22" y="-2.52" width="4.08" height="3.82" fill="#fff" transform="translate(0 93.0) scale(1 1.04)"/>
<text x="703.7" y="0" transform="translate(0 344.2) scale(1 1.04)" text-anchor="middle" font-size="20.4" fill="#FFA500">pSTAT3</text>
<text x="703.7" y="0" transform="translate(0 384.5) scale(1 1.04)" text-anchor="middle" font-size="20.4" fill="#008B00">NF-κB</text>
<text x="703.8" y="0" transform="translate(0 438.3) scale(1 1.04)" text-anchor="middle" font-size="20.4" fill="#A020F0">FG</text>
<text x="703.3" y="0" transform="translate(0 574.0) scale(1 1.04)" text-anchor="middle" font-size="20.4" fill="#FF0000">miR-21</text><rect x="725.70" y="-2.52" width="4.24" height="3.82" fill="#fff" transform="translate(0 574.0) scale(1 1.04)"/><rect x="731.74" y="-2.52" width="4.08" height="3.82" fill="#fff" transform="translate(0 574.0) scale(1 1.04)"/>
<text x="704.5" y="0" transform="translate(0 660.8) scale(1 1.04)" text-anchor="middle" font-size="20.4" fill="#0000FF">miR-146a</text><rect x="704.21" y="-2.52" width="4.24" height="3.82" fill="#fff" transform="translate(0 660.8) scale(1 1.04)"/><rect x="710.25" y="-2.52" width="4.08" height="3.82" fill="#fff" transform="translate(0 660.8) scale(1 1.04)"/>
<text x="569.0" y="23.9" text-anchor="middle" font-size="31.3">NF-κB, STAT3,TGF-β</text>
<text x="569.9" y="780.6" text-anchor="middle" font-size="31.5">Time Steps (a.u.)</text>
<text x="26.8" y="373.4" transform="rotate(-90 26.8 373.4)" text-anchor="middle" font-size="31.5">Expression Level (Tokens)</text>
</svg>
</body></html>
